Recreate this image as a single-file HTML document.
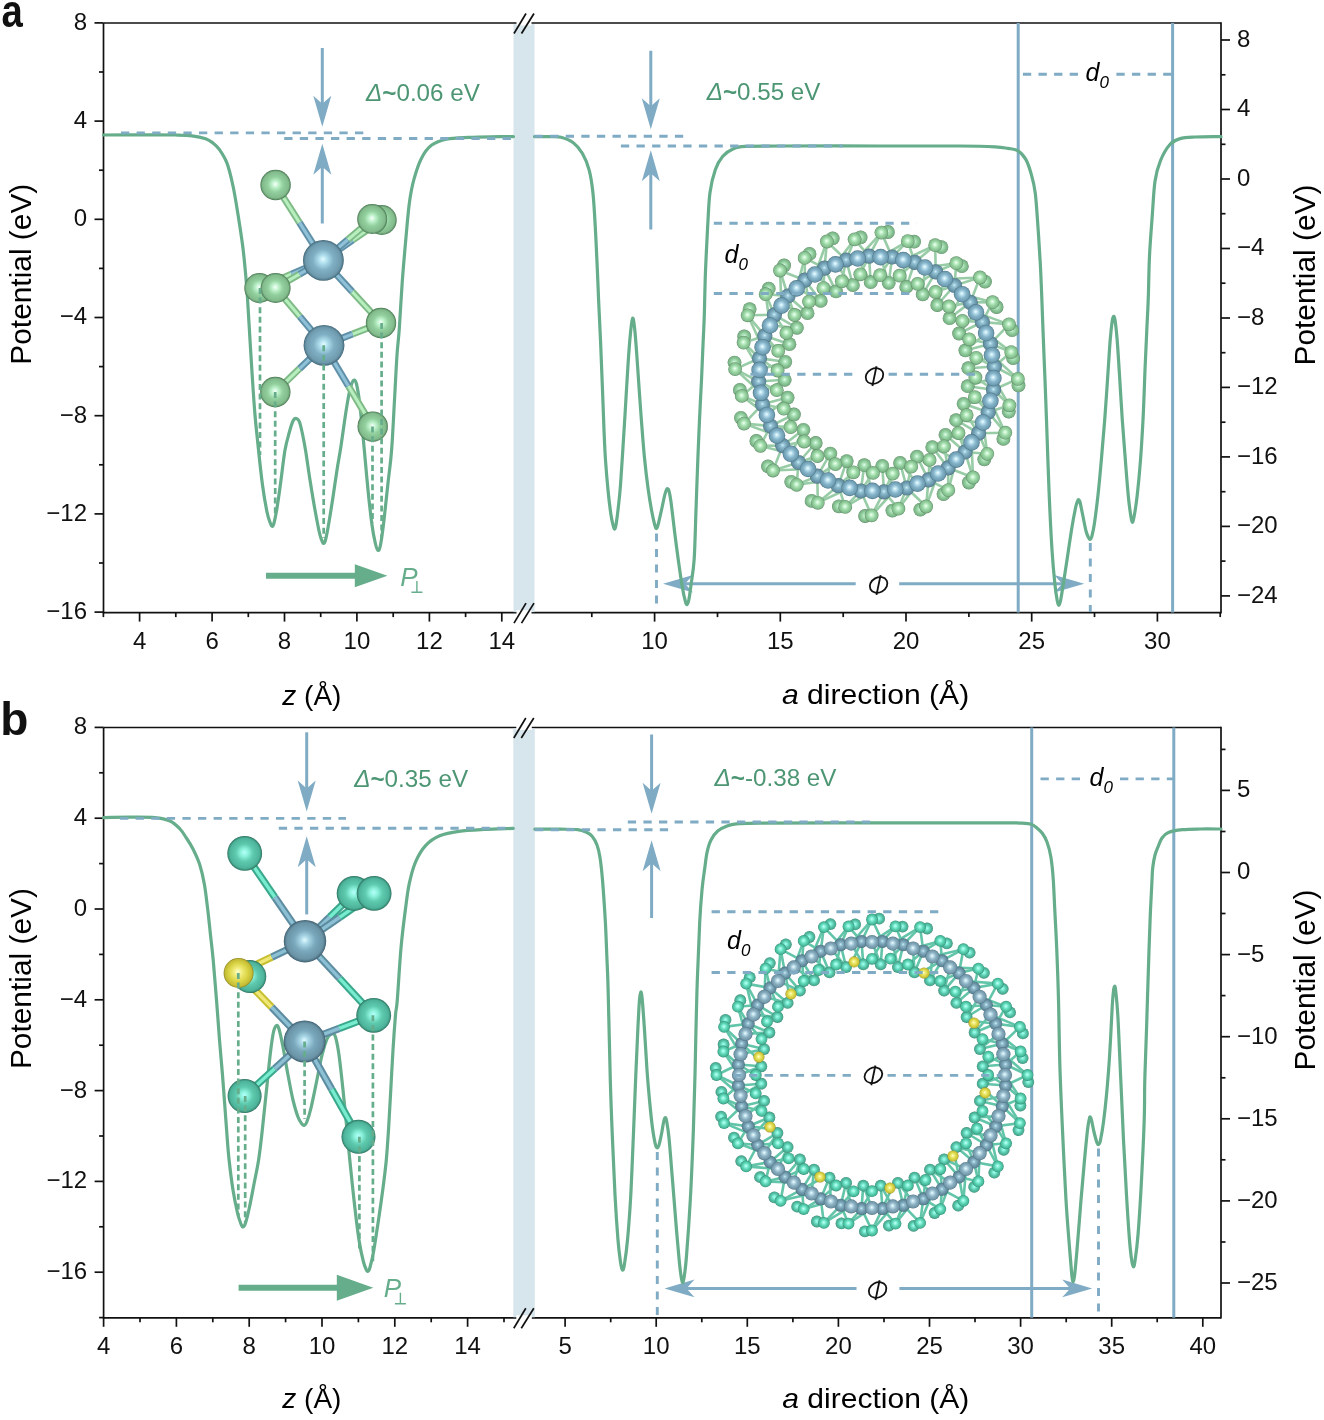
<!DOCTYPE html>
<html><head><meta charset="utf-8"><style>html,body{margin:0;padding:0;background:#fff;}svg{display:block;will-change:transform;}</style></head>
<body>
<svg width="1324" height="1420" viewBox="0 0 1324 1420" font-family='"Liberation Sans", sans-serif'>
<defs>
<radialGradient id="gA" cx="0.5" cy="0.5" r="0.5" fx="0.49" fy="0.47"><stop offset="0" stop-color="#f8fffc"/><stop offset="0.22" stop-color="#bff2cc"/><stop offset="0.5" stop-color="#92d09e"/><stop offset="0.86" stop-color="#82ba8c"/><stop offset="0.95" stop-color="#5f9468"/><stop offset="1" stop-color="#3f6b48"/></radialGradient>
<radialGradient id="mA" cx="0.5" cy="0.5" r="0.5" fx="0.49" fy="0.47"><stop offset="0" stop-color="#e4fcff"/><stop offset="0.2" stop-color="#b0e0ee"/><stop offset="0.5" stop-color="#80b0c4"/><stop offset="0.86" stop-color="#6f9aae"/><stop offset="0.95" stop-color="#557e90"/><stop offset="1" stop-color="#3a5e6e"/></radialGradient>
<radialGradient id="tB" cx="0.5" cy="0.5" r="0.5" fx="0.49" fy="0.47"><stop offset="0" stop-color="#b4fffb"/><stop offset="0.22" stop-color="#8cf2dc"/><stop offset="0.5" stop-color="#5ecaae"/><stop offset="0.86" stop-color="#4db39a"/><stop offset="0.95" stop-color="#3a8f78"/><stop offset="1" stop-color="#276a58"/></radialGradient>
<radialGradient id="mB" cx="0.5" cy="0.5" r="0.5" fx="0.49" fy="0.47"><stop offset="0" stop-color="#e0fbff"/><stop offset="0.2" stop-color="#a8d6e6"/><stop offset="0.5" stop-color="#7aa8bc"/><stop offset="0.86" stop-color="#6a93a6"/><stop offset="0.95" stop-color="#527688"/><stop offset="1" stop-color="#385868"/></radialGradient>
<radialGradient id="yB" cx="0.5" cy="0.5" r="0.5" fx="0.47" fy="0.45"><stop offset="0" stop-color="#ffffd0"/><stop offset="0.25" stop-color="#f2ee80"/><stop offset="0.6" stop-color="#dcd648"/><stop offset="0.9" stop-color="#c4bc34"/><stop offset="1" stop-color="#8c8420"/></radialGradient>
<radialGradient id="gAr" cx="0.5" cy="0.5" r="0.5" fx="0.49" fy="0.47"><stop offset="0" stop-color="#e8fff0"/><stop offset="0.25" stop-color="#b0e6be"/><stop offset="0.6" stop-color="#8cc898"/><stop offset="0.9" stop-color="#78b084"/><stop offset="1" stop-color="#4f8058"/></radialGradient>
<radialGradient id="mAr" cx="0.5" cy="0.5" r="0.5" fx="0.49" fy="0.47"><stop offset="0" stop-color="#cfeff8"/><stop offset="0.25" stop-color="#94c2d4"/><stop offset="0.6" stop-color="#74a2b6"/><stop offset="0.9" stop-color="#618a9c"/><stop offset="1" stop-color="#42687a"/></radialGradient>
<radialGradient id="tBr" cx="0.5" cy="0.5" r="0.5" fx="0.49" fy="0.47"><stop offset="0" stop-color="#a8fff4"/><stop offset="0.25" stop-color="#80eed6"/><stop offset="0.6" stop-color="#56c4a8"/><stop offset="0.9" stop-color="#46a88f"/><stop offset="1" stop-color="#2d7a66"/></radialGradient>
<radialGradient id="mBr" cx="0.5" cy="0.5" r="0.5" fx="0.49" fy="0.47"><stop offset="0" stop-color="#cbecf6"/><stop offset="0.25" stop-color="#90bccd"/><stop offset="0.6" stop-color="#7099ac"/><stop offset="0.9" stop-color="#5c8497"/><stop offset="1" stop-color="#3e6070"/></radialGradient>
<radialGradient id="mAs" cx="0.5" cy="0.5" r="0.5" fx="0.48" fy="0.45"><stop offset="0" stop-color="#f2ffff"/><stop offset="0.25" stop-color="#b4dcec"/><stop offset="0.55" stop-color="#84b2c8"/><stop offset="0.85" stop-color="#6f9db2"/><stop offset="1" stop-color="#4c7588"/></radialGradient>
<radialGradient id="mBs" cx="0.5" cy="0.5" r="0.5" fx="0.48" fy="0.45"><stop offset="0" stop-color="#f2ffff"/><stop offset="0.25" stop-color="#b6d8e6"/><stop offset="0.55" stop-color="#88adbf"/><stop offset="0.85" stop-color="#7398aa"/><stop offset="1" stop-color="#4f7385"/></radialGradient>
<radialGradient id="gAs" cx="0.5" cy="0.5" r="0.5" fx="0.48" fy="0.45"><stop offset="0" stop-color="#f6fff8"/><stop offset="0.25" stop-color="#c0f0c8"/><stop offset="0.55" stop-color="#98d4a2"/><stop offset="0.85" stop-color="#84bc8e"/><stop offset="1" stop-color="#5a8c62"/></radialGradient>
<radialGradient id="tBs" cx="0.5" cy="0.5" r="0.5" fx="0.48" fy="0.45"><stop offset="0" stop-color="#c8fffa"/><stop offset="0.25" stop-color="#8af4dc"/><stop offset="0.55" stop-color="#5cd4b4"/><stop offset="0.85" stop-color="#46b89a"/><stop offset="1" stop-color="#2e8a72"/></radialGradient>
</defs>
<rect width="1324" height="1420" fill="#fff"/>
<line x1="103.5" y1="23" x2="1221" y2="23" stroke="#111" stroke-width="1.7" />
<line x1="103.5" y1="612.6" x2="1221" y2="612.6" stroke="#111" stroke-width="1.7" />
<line x1="103.5" y1="23" x2="103.5" y2="613.4" stroke="#111" stroke-width="1.7" />
<line x1="1221" y1="22.2" x2="1221" y2="613.4" stroke="#111" stroke-width="1.7" />
<rect x="513.5" y="24" width="21" height="588.1" fill="#d7e5ed"/>
<line x1="94.5" y1="22.9" x2="103.5" y2="22.9" stroke="#111" stroke-width="1.7" />
<text x="87" y="29.8" font-size="24" text-anchor="end" fill="#111" >8</text>
<line x1="99" y1="72" x2="103.5" y2="72" stroke="#111" stroke-width="1.7" />
<line x1="94.5" y1="121.1" x2="103.5" y2="121.1" stroke="#111" stroke-width="1.7" />
<text x="87" y="128" font-size="24" text-anchor="end" fill="#111" >4</text>
<line x1="99" y1="170.2" x2="103.5" y2="170.2" stroke="#111" stroke-width="1.7" />
<line x1="94.5" y1="219.3" x2="103.5" y2="219.3" stroke="#111" stroke-width="1.7" />
<text x="87" y="226.2" font-size="24" text-anchor="end" fill="#111" >0</text>
<line x1="99" y1="268.4" x2="103.5" y2="268.4" stroke="#111" stroke-width="1.7" />
<line x1="94.5" y1="317.5" x2="103.5" y2="317.5" stroke="#111" stroke-width="1.7" />
<text x="87" y="324.4" font-size="24" text-anchor="end" fill="#111" >−4</text>
<line x1="99" y1="366.6" x2="103.5" y2="366.6" stroke="#111" stroke-width="1.7" />
<line x1="94.5" y1="415.7" x2="103.5" y2="415.7" stroke="#111" stroke-width="1.7" />
<text x="87" y="422.6" font-size="24" text-anchor="end" fill="#111" >−8</text>
<line x1="99" y1="464.8" x2="103.5" y2="464.8" stroke="#111" stroke-width="1.7" />
<line x1="94.5" y1="513.9" x2="103.5" y2="513.9" stroke="#111" stroke-width="1.7" />
<text x="87" y="520.8" font-size="24" text-anchor="end" fill="#111" >−12</text>
<line x1="99" y1="563" x2="103.5" y2="563" stroke="#111" stroke-width="1.7" />
<line x1="94.5" y1="612.1" x2="103.5" y2="612.1" stroke="#111" stroke-width="1.7" />
<text x="87" y="619" font-size="24" text-anchor="end" fill="#111" >−16</text>
<line x1="1221" y1="40" x2="1230" y2="40" stroke="#111" stroke-width="1.7" />
<text x="1237" y="46.9" font-size="24" text-anchor="start" fill="#111" >8</text>
<line x1="1221" y1="74.8" x2="1225.5" y2="74.8" stroke="#111" stroke-width="1.7" />
<line x1="1221" y1="109.5" x2="1230" y2="109.5" stroke="#111" stroke-width="1.7" />
<text x="1237" y="116.4" font-size="24" text-anchor="start" fill="#111" >4</text>
<line x1="1221" y1="144.3" x2="1225.5" y2="144.3" stroke="#111" stroke-width="1.7" />
<line x1="1221" y1="179" x2="1230" y2="179" stroke="#111" stroke-width="1.7" />
<text x="1237" y="185.9" font-size="24" text-anchor="start" fill="#111" >0</text>
<line x1="1221" y1="213.7" x2="1225.5" y2="213.7" stroke="#111" stroke-width="1.7" />
<line x1="1221" y1="248.5" x2="1230" y2="248.5" stroke="#111" stroke-width="1.7" />
<text x="1237" y="255.4" font-size="24" text-anchor="start" fill="#111" >−4</text>
<line x1="1221" y1="283.2" x2="1225.5" y2="283.2" stroke="#111" stroke-width="1.7" />
<line x1="1221" y1="318" x2="1230" y2="318" stroke="#111" stroke-width="1.7" />
<text x="1237" y="324.9" font-size="24" text-anchor="start" fill="#111" >−8</text>
<line x1="1221" y1="352.7" x2="1225.5" y2="352.7" stroke="#111" stroke-width="1.7" />
<line x1="1221" y1="387.4" x2="1230" y2="387.4" stroke="#111" stroke-width="1.7" />
<text x="1237" y="394.3" font-size="24" text-anchor="start" fill="#111" >−12</text>
<line x1="1221" y1="422.2" x2="1225.5" y2="422.2" stroke="#111" stroke-width="1.7" />
<line x1="1221" y1="456.9" x2="1230" y2="456.9" stroke="#111" stroke-width="1.7" />
<text x="1237" y="463.8" font-size="24" text-anchor="start" fill="#111" >−16</text>
<line x1="1221" y1="491.7" x2="1225.5" y2="491.7" stroke="#111" stroke-width="1.7" />
<line x1="1221" y1="526.4" x2="1230" y2="526.4" stroke="#111" stroke-width="1.7" />
<text x="1237" y="533.3" font-size="24" text-anchor="start" fill="#111" >−20</text>
<line x1="1221" y1="561.1" x2="1225.5" y2="561.1" stroke="#111" stroke-width="1.7" />
<line x1="1221" y1="595.9" x2="1230" y2="595.9" stroke="#111" stroke-width="1.7" />
<text x="1237" y="602.8" font-size="24" text-anchor="start" fill="#111" >−24</text>
<line x1="103.4" y1="612.6" x2="103.4" y2="617.1" stroke="#111" stroke-width="1.7" />
<line x1="139.6" y1="612.6" x2="139.6" y2="621.6" stroke="#111" stroke-width="1.7" />
<text x="139.6" y="649.1" font-size="24" text-anchor="middle" fill="#111" >4</text>
<line x1="175.8" y1="612.6" x2="175.8" y2="617.1" stroke="#111" stroke-width="1.7" />
<line x1="212.1" y1="612.6" x2="212.1" y2="621.6" stroke="#111" stroke-width="1.7" />
<text x="212.1" y="649.1" font-size="24" text-anchor="middle" fill="#111" >6</text>
<line x1="248.3" y1="612.6" x2="248.3" y2="617.1" stroke="#111" stroke-width="1.7" />
<line x1="284.5" y1="612.6" x2="284.5" y2="621.6" stroke="#111" stroke-width="1.7" />
<text x="284.5" y="649.1" font-size="24" text-anchor="middle" fill="#111" >8</text>
<line x1="320.7" y1="612.6" x2="320.7" y2="617.1" stroke="#111" stroke-width="1.7" />
<line x1="356.9" y1="612.6" x2="356.9" y2="621.6" stroke="#111" stroke-width="1.7" />
<text x="356.9" y="649.1" font-size="24" text-anchor="middle" fill="#111" >10</text>
<line x1="393.2" y1="612.6" x2="393.2" y2="617.1" stroke="#111" stroke-width="1.7" />
<line x1="429.4" y1="612.6" x2="429.4" y2="621.6" stroke="#111" stroke-width="1.7" />
<text x="429.4" y="649.1" font-size="24" text-anchor="middle" fill="#111" >12</text>
<line x1="465.6" y1="612.6" x2="465.6" y2="617.1" stroke="#111" stroke-width="1.7" />
<line x1="501.8" y1="612.6" x2="501.8" y2="621.6" stroke="#111" stroke-width="1.7" />
<text x="501.8" y="649.1" font-size="24" text-anchor="middle" fill="#111" >14</text>
<line x1="591.8" y1="612.6" x2="591.8" y2="617.1" stroke="#111" stroke-width="1.7" />
<line x1="654.6" y1="612.6" x2="654.6" y2="621.6" stroke="#111" stroke-width="1.7" />
<text x="654.6" y="649.1" font-size="24" text-anchor="middle" fill="#111" >10</text>
<line x1="717.5" y1="612.6" x2="717.5" y2="617.1" stroke="#111" stroke-width="1.7" />
<line x1="780.3" y1="612.6" x2="780.3" y2="621.6" stroke="#111" stroke-width="1.7" />
<text x="780.3" y="649.1" font-size="24" text-anchor="middle" fill="#111" >15</text>
<line x1="843.2" y1="612.6" x2="843.2" y2="617.1" stroke="#111" stroke-width="1.7" />
<line x1="906" y1="612.6" x2="906" y2="621.6" stroke="#111" stroke-width="1.7" />
<text x="906" y="649.1" font-size="24" text-anchor="middle" fill="#111" >20</text>
<line x1="968.9" y1="612.6" x2="968.9" y2="617.1" stroke="#111" stroke-width="1.7" />
<line x1="1031.7" y1="612.6" x2="1031.7" y2="621.6" stroke="#111" stroke-width="1.7" />
<text x="1031.7" y="649.1" font-size="24" text-anchor="middle" fill="#111" >25</text>
<line x1="1094.5" y1="612.6" x2="1094.5" y2="617.1" stroke="#111" stroke-width="1.7" />
<line x1="1157.4" y1="612.6" x2="1157.4" y2="621.6" stroke="#111" stroke-width="1.7" />
<text x="1157.4" y="649.1" font-size="24" text-anchor="middle" fill="#111" >30</text>
<line x1="1220.2" y1="612.6" x2="1220.2" y2="617.1" stroke="#111" stroke-width="1.7" />
<line x1="516.5" y1="23" x2="531.5" y2="23" stroke="white" stroke-width="5"/>
<line x1="514" y1="33.5" x2="526" y2="13.5" stroke="#111" stroke-width="1.7" />
<line x1="521.5" y1="33.5" x2="534" y2="13.5" stroke="#111" stroke-width="1.7" />
<line x1="516.5" y1="612.6" x2="531.5" y2="612.6" stroke="white" stroke-width="5"/>
<line x1="514" y1="623.1" x2="526" y2="603.1" stroke="#111" stroke-width="1.7" />
<line x1="521.5" y1="623.1" x2="534" y2="603.1" stroke="#111" stroke-width="1.7" />
<line x1="1018.2" y1="23" x2="1018.2" y2="612.6" stroke="#7fabc4" stroke-width="3" />
<line x1="1172.6" y1="23" x2="1172.6" y2="612.6" stroke="#7fabc4" stroke-width="3" />
<line x1="892.2" y1="257" x2="881.4" y2="232.6" stroke="#98cca6" stroke-width="2.6"/>
<line x1="892.2" y1="257" x2="907.8" y2="241.1" stroke="#98cca6" stroke-width="2.6"/>
<line x1="892.2" y1="257" x2="880" y2="275.1" stroke="#98cca6" stroke-width="2.6"/>
<line x1="892.2" y1="257" x2="888.7" y2="282.8" stroke="#98cca6" stroke-width="2.6"/>
<line x1="880.6" y1="257.1" x2="907.8" y2="241.1" stroke="#98cca6" stroke-width="2.6"/>
<line x1="880.6" y1="257.1" x2="888.7" y2="282.8" stroke="#98cca6" stroke-width="2.6"/>
<line x1="880.6" y1="257.1" x2="903.3" y2="260.1" stroke="#98cca6" stroke-width="2.6"/>
<line x1="914.7" y1="262.3" x2="907.8" y2="241.1" stroke="#98cca6" stroke-width="2.6"/>
<line x1="914.7" y1="262.3" x2="935.2" y2="245.2" stroke="#98cca6" stroke-width="2.6"/>
<line x1="914.7" y1="262.3" x2="899.6" y2="275.7" stroke="#98cca6" stroke-width="2.6"/>
<line x1="914.7" y1="262.3" x2="906.3" y2="286.9" stroke="#98cca6" stroke-width="2.6"/>
<line x1="903.3" y1="260.1" x2="935.2" y2="245.2" stroke="#98cca6" stroke-width="2.6"/>
<line x1="903.3" y1="260.1" x2="906.3" y2="286.9" stroke="#98cca6" stroke-width="2.6"/>
<line x1="903.3" y1="260.1" x2="925" y2="267.5" stroke="#98cca6" stroke-width="2.6"/>
<line x1="935.7" y1="271.9" x2="935.2" y2="245.2" stroke="#98cca6" stroke-width="2.6"/>
<line x1="935.7" y1="271.9" x2="956.3" y2="263.2" stroke="#98cca6" stroke-width="2.6"/>
<line x1="935.7" y1="271.9" x2="917.6" y2="283.9" stroke="#98cca6" stroke-width="2.6"/>
<line x1="935.7" y1="271.9" x2="922.7" y2="294.4" stroke="#98cca6" stroke-width="2.6"/>
<line x1="925" y1="267.5" x2="956.3" y2="263.2" stroke="#98cca6" stroke-width="2.6"/>
<line x1="925" y1="267.5" x2="922.7" y2="294.4" stroke="#98cca6" stroke-width="2.6"/>
<line x1="925" y1="267.5" x2="944.9" y2="279" stroke="#98cca6" stroke-width="2.6"/>
<line x1="954.5" y1="285.5" x2="956.3" y2="263.2" stroke="#98cca6" stroke-width="2.6"/>
<line x1="954.5" y1="285.5" x2="980" y2="277.5" stroke="#98cca6" stroke-width="2.6"/>
<line x1="954.5" y1="285.5" x2="935.5" y2="292" stroke="#98cca6" stroke-width="2.6"/>
<line x1="954.5" y1="285.5" x2="937.3" y2="305" stroke="#98cca6" stroke-width="2.6"/>
<line x1="944.9" y1="279" x2="980" y2="277.5" stroke="#98cca6" stroke-width="2.6"/>
<line x1="944.9" y1="279" x2="937.3" y2="305" stroke="#98cca6" stroke-width="2.6"/>
<line x1="944.9" y1="279" x2="962.1" y2="294.2" stroke="#98cca6" stroke-width="2.6"/>
<line x1="970.3" y1="302.4" x2="980" y2="277.5" stroke="#98cca6" stroke-width="2.6"/>
<line x1="970.3" y1="302.4" x2="992.6" y2="302.2" stroke="#98cca6" stroke-width="2.6"/>
<line x1="970.3" y1="302.4" x2="948.9" y2="306.5" stroke="#98cca6" stroke-width="2.6"/>
<line x1="970.3" y1="302.4" x2="949.6" y2="318.2" stroke="#98cca6" stroke-width="2.6"/>
<line x1="962.1" y1="294.2" x2="992.6" y2="302.2" stroke="#98cca6" stroke-width="2.6"/>
<line x1="962.1" y1="294.2" x2="949.6" y2="318.2" stroke="#98cca6" stroke-width="2.6"/>
<line x1="962.1" y1="294.2" x2="976" y2="312.4" stroke="#98cca6" stroke-width="2.6"/>
<line x1="982.4" y1="322" x2="992.6" y2="302.2" stroke="#98cca6" stroke-width="2.6"/>
<line x1="982.4" y1="322" x2="1009" y2="324.4" stroke="#98cca6" stroke-width="2.6"/>
<line x1="982.4" y1="322" x2="962.4" y2="320.9" stroke="#98cca6" stroke-width="2.6"/>
<line x1="982.4" y1="322" x2="959.1" y2="333.5" stroke="#98cca6" stroke-width="2.6"/>
<line x1="976" y1="312.4" x2="1009" y2="324.4" stroke="#98cca6" stroke-width="2.6"/>
<line x1="976" y1="312.4" x2="959.1" y2="333.5" stroke="#98cca6" stroke-width="2.6"/>
<line x1="976" y1="312.4" x2="986.1" y2="333" stroke="#98cca6" stroke-width="2.6"/>
<line x1="990.5" y1="343.7" x2="1009" y2="324.4" stroke="#98cca6" stroke-width="2.6"/>
<line x1="990.5" y1="343.7" x2="1011.2" y2="352.1" stroke="#98cca6" stroke-width="2.6"/>
<line x1="990.5" y1="343.7" x2="969.2" y2="339.3" stroke="#98cca6" stroke-width="2.6"/>
<line x1="990.5" y1="343.7" x2="965.4" y2="350.4" stroke="#98cca6" stroke-width="2.6"/>
<line x1="986.1" y1="333" x2="1011.2" y2="352.1" stroke="#98cca6" stroke-width="2.6"/>
<line x1="986.1" y1="333" x2="965.4" y2="350.4" stroke="#98cca6" stroke-width="2.6"/>
<line x1="986.1" y1="333" x2="992" y2="355.2" stroke="#98cca6" stroke-width="2.6"/>
<line x1="994.3" y1="366.5" x2="1011.2" y2="352.1" stroke="#98cca6" stroke-width="2.6"/>
<line x1="994.3" y1="366.5" x2="1017.9" y2="378.9" stroke="#98cca6" stroke-width="2.6"/>
<line x1="994.3" y1="366.5" x2="976.2" y2="357.8" stroke="#98cca6" stroke-width="2.6"/>
<line x1="994.3" y1="366.5" x2="968.3" y2="368.2" stroke="#98cca6" stroke-width="2.6"/>
<line x1="992" y1="355.2" x2="1017.9" y2="378.9" stroke="#98cca6" stroke-width="2.6"/>
<line x1="992" y1="355.2" x2="968.3" y2="368.2" stroke="#98cca6" stroke-width="2.6"/>
<line x1="992" y1="355.2" x2="993.4" y2="378.1" stroke="#98cca6" stroke-width="2.6"/>
<line x1="993.5" y1="389.7" x2="1017.9" y2="378.9" stroke="#98cca6" stroke-width="2.6"/>
<line x1="993.5" y1="389.7" x2="1009.4" y2="405.3" stroke="#98cca6" stroke-width="2.6"/>
<line x1="993.5" y1="389.7" x2="975.4" y2="377.5" stroke="#98cca6" stroke-width="2.6"/>
<line x1="993.5" y1="389.7" x2="967.7" y2="386.2" stroke="#98cca6" stroke-width="2.6"/>
<line x1="993.4" y1="378.1" x2="1009.4" y2="405.3" stroke="#98cca6" stroke-width="2.6"/>
<line x1="993.4" y1="378.1" x2="967.7" y2="386.2" stroke="#98cca6" stroke-width="2.6"/>
<line x1="993.4" y1="378.1" x2="990.4" y2="400.8" stroke="#98cca6" stroke-width="2.6"/>
<line x1="988.2" y1="412.2" x2="1009.4" y2="405.3" stroke="#98cca6" stroke-width="2.6"/>
<line x1="988.2" y1="412.2" x2="1005.3" y2="432.7" stroke="#98cca6" stroke-width="2.6"/>
<line x1="988.2" y1="412.2" x2="974.8" y2="397.1" stroke="#98cca6" stroke-width="2.6"/>
<line x1="988.2" y1="412.2" x2="963.6" y2="403.8" stroke="#98cca6" stroke-width="2.6"/>
<line x1="990.4" y1="400.8" x2="1005.3" y2="432.7" stroke="#98cca6" stroke-width="2.6"/>
<line x1="990.4" y1="400.8" x2="963.6" y2="403.8" stroke="#98cca6" stroke-width="2.6"/>
<line x1="990.4" y1="400.8" x2="983" y2="422.5" stroke="#98cca6" stroke-width="2.6"/>
<line x1="978.6" y1="433.2" x2="1005.3" y2="432.7" stroke="#98cca6" stroke-width="2.6"/>
<line x1="978.6" y1="433.2" x2="987.3" y2="453.8" stroke="#98cca6" stroke-width="2.6"/>
<line x1="978.6" y1="433.2" x2="966.6" y2="415.1" stroke="#98cca6" stroke-width="2.6"/>
<line x1="978.6" y1="433.2" x2="956.1" y2="420.2" stroke="#98cca6" stroke-width="2.6"/>
<line x1="983" y1="422.5" x2="987.3" y2="453.8" stroke="#98cca6" stroke-width="2.6"/>
<line x1="983" y1="422.5" x2="956.1" y2="420.2" stroke="#98cca6" stroke-width="2.6"/>
<line x1="983" y1="422.5" x2="971.5" y2="442.4" stroke="#98cca6" stroke-width="2.6"/>
<line x1="965" y1="452" x2="987.3" y2="453.8" stroke="#98cca6" stroke-width="2.6"/>
<line x1="965" y1="452" x2="973" y2="477.5" stroke="#98cca6" stroke-width="2.6"/>
<line x1="965" y1="452" x2="958.5" y2="433" stroke="#98cca6" stroke-width="2.6"/>
<line x1="965" y1="452" x2="945.5" y2="434.8" stroke="#98cca6" stroke-width="2.6"/>
<line x1="971.5" y1="442.4" x2="973" y2="477.5" stroke="#98cca6" stroke-width="2.6"/>
<line x1="971.5" y1="442.4" x2="945.5" y2="434.8" stroke="#98cca6" stroke-width="2.6"/>
<line x1="971.5" y1="442.4" x2="956.3" y2="459.6" stroke="#98cca6" stroke-width="2.6"/>
<line x1="948.1" y1="467.8" x2="973" y2="477.5" stroke="#98cca6" stroke-width="2.6"/>
<line x1="948.1" y1="467.8" x2="948.3" y2="490.1" stroke="#98cca6" stroke-width="2.6"/>
<line x1="948.1" y1="467.8" x2="944" y2="446.4" stroke="#98cca6" stroke-width="2.6"/>
<line x1="948.1" y1="467.8" x2="932.3" y2="447.1" stroke="#98cca6" stroke-width="2.6"/>
<line x1="956.3" y1="459.6" x2="948.3" y2="490.1" stroke="#98cca6" stroke-width="2.6"/>
<line x1="956.3" y1="459.6" x2="932.3" y2="447.1" stroke="#98cca6" stroke-width="2.6"/>
<line x1="956.3" y1="459.6" x2="938.1" y2="473.5" stroke="#98cca6" stroke-width="2.6"/>
<line x1="928.5" y1="479.9" x2="948.3" y2="490.1" stroke="#98cca6" stroke-width="2.6"/>
<line x1="928.5" y1="479.9" x2="926.1" y2="506.5" stroke="#98cca6" stroke-width="2.6"/>
<line x1="928.5" y1="479.9" x2="929.6" y2="459.9" stroke="#98cca6" stroke-width="2.6"/>
<line x1="928.5" y1="479.9" x2="917" y2="456.6" stroke="#98cca6" stroke-width="2.6"/>
<line x1="938.1" y1="473.5" x2="926.1" y2="506.5" stroke="#98cca6" stroke-width="2.6"/>
<line x1="938.1" y1="473.5" x2="917" y2="456.6" stroke="#98cca6" stroke-width="2.6"/>
<line x1="938.1" y1="473.5" x2="917.5" y2="483.6" stroke="#98cca6" stroke-width="2.6"/>
<line x1="906.8" y1="488" x2="926.1" y2="506.5" stroke="#98cca6" stroke-width="2.6"/>
<line x1="906.8" y1="488" x2="898.4" y2="508.7" stroke="#98cca6" stroke-width="2.6"/>
<line x1="906.8" y1="488" x2="911.2" y2="466.7" stroke="#98cca6" stroke-width="2.6"/>
<line x1="906.8" y1="488" x2="900.1" y2="462.9" stroke="#98cca6" stroke-width="2.6"/>
<line x1="917.5" y1="483.6" x2="898.4" y2="508.7" stroke="#98cca6" stroke-width="2.6"/>
<line x1="917.5" y1="483.6" x2="900.1" y2="462.9" stroke="#98cca6" stroke-width="2.6"/>
<line x1="917.5" y1="483.6" x2="895.3" y2="489.5" stroke="#98cca6" stroke-width="2.6"/>
<line x1="884" y1="491.8" x2="898.4" y2="508.7" stroke="#98cca6" stroke-width="2.6"/>
<line x1="884" y1="491.8" x2="871.6" y2="515.4" stroke="#98cca6" stroke-width="2.6"/>
<line x1="884" y1="491.8" x2="892.7" y2="473.7" stroke="#98cca6" stroke-width="2.6"/>
<line x1="884" y1="491.8" x2="882.3" y2="465.8" stroke="#98cca6" stroke-width="2.6"/>
<line x1="895.3" y1="489.5" x2="871.6" y2="515.4" stroke="#98cca6" stroke-width="2.6"/>
<line x1="895.3" y1="489.5" x2="882.3" y2="465.8" stroke="#98cca6" stroke-width="2.6"/>
<line x1="895.3" y1="489.5" x2="872.4" y2="490.9" stroke="#98cca6" stroke-width="2.6"/>
<line x1="860.8" y1="491" x2="871.6" y2="515.4" stroke="#98cca6" stroke-width="2.6"/>
<line x1="860.8" y1="491" x2="845.2" y2="506.9" stroke="#98cca6" stroke-width="2.6"/>
<line x1="860.8" y1="491" x2="873" y2="472.9" stroke="#98cca6" stroke-width="2.6"/>
<line x1="860.8" y1="491" x2="864.3" y2="465.2" stroke="#98cca6" stroke-width="2.6"/>
<line x1="872.4" y1="490.9" x2="845.2" y2="506.9" stroke="#98cca6" stroke-width="2.6"/>
<line x1="872.4" y1="490.9" x2="864.3" y2="465.2" stroke="#98cca6" stroke-width="2.6"/>
<line x1="872.4" y1="490.9" x2="849.7" y2="487.9" stroke="#98cca6" stroke-width="2.6"/>
<line x1="838.3" y1="485.7" x2="845.2" y2="506.9" stroke="#98cca6" stroke-width="2.6"/>
<line x1="838.3" y1="485.7" x2="817.8" y2="502.8" stroke="#98cca6" stroke-width="2.6"/>
<line x1="838.3" y1="485.7" x2="853.4" y2="472.3" stroke="#98cca6" stroke-width="2.6"/>
<line x1="838.3" y1="485.7" x2="846.7" y2="461.1" stroke="#98cca6" stroke-width="2.6"/>
<line x1="849.7" y1="487.9" x2="817.8" y2="502.8" stroke="#98cca6" stroke-width="2.6"/>
<line x1="849.7" y1="487.9" x2="846.7" y2="461.1" stroke="#98cca6" stroke-width="2.6"/>
<line x1="849.7" y1="487.9" x2="828" y2="480.5" stroke="#98cca6" stroke-width="2.6"/>
<line x1="817.3" y1="476.1" x2="817.8" y2="502.8" stroke="#98cca6" stroke-width="2.6"/>
<line x1="817.3" y1="476.1" x2="796.7" y2="484.8" stroke="#98cca6" stroke-width="2.6"/>
<line x1="817.3" y1="476.1" x2="835.4" y2="464.1" stroke="#98cca6" stroke-width="2.6"/>
<line x1="817.3" y1="476.1" x2="830.3" y2="453.6" stroke="#98cca6" stroke-width="2.6"/>
<line x1="828" y1="480.5" x2="796.7" y2="484.8" stroke="#98cca6" stroke-width="2.6"/>
<line x1="828" y1="480.5" x2="830.3" y2="453.6" stroke="#98cca6" stroke-width="2.6"/>
<line x1="828" y1="480.5" x2="808.1" y2="469" stroke="#98cca6" stroke-width="2.6"/>
<line x1="798.5" y1="462.5" x2="796.7" y2="484.8" stroke="#98cca6" stroke-width="2.6"/>
<line x1="798.5" y1="462.5" x2="773" y2="470.5" stroke="#98cca6" stroke-width="2.6"/>
<line x1="798.5" y1="462.5" x2="817.5" y2="456" stroke="#98cca6" stroke-width="2.6"/>
<line x1="798.5" y1="462.5" x2="815.7" y2="443" stroke="#98cca6" stroke-width="2.6"/>
<line x1="808.1" y1="469" x2="773" y2="470.5" stroke="#98cca6" stroke-width="2.6"/>
<line x1="808.1" y1="469" x2="815.7" y2="443" stroke="#98cca6" stroke-width="2.6"/>
<line x1="808.1" y1="469" x2="790.9" y2="453.8" stroke="#98cca6" stroke-width="2.6"/>
<line x1="782.7" y1="445.6" x2="773" y2="470.5" stroke="#98cca6" stroke-width="2.6"/>
<line x1="782.7" y1="445.6" x2="760.4" y2="445.8" stroke="#98cca6" stroke-width="2.6"/>
<line x1="782.7" y1="445.6" x2="804.1" y2="441.5" stroke="#98cca6" stroke-width="2.6"/>
<line x1="782.7" y1="445.6" x2="803.4" y2="429.8" stroke="#98cca6" stroke-width="2.6"/>
<line x1="790.9" y1="453.8" x2="760.4" y2="445.8" stroke="#98cca6" stroke-width="2.6"/>
<line x1="790.9" y1="453.8" x2="803.4" y2="429.8" stroke="#98cca6" stroke-width="2.6"/>
<line x1="790.9" y1="453.8" x2="777" y2="435.6" stroke="#98cca6" stroke-width="2.6"/>
<line x1="770.6" y1="426" x2="760.4" y2="445.8" stroke="#98cca6" stroke-width="2.6"/>
<line x1="770.6" y1="426" x2="744" y2="423.6" stroke="#98cca6" stroke-width="2.6"/>
<line x1="770.6" y1="426" x2="790.6" y2="427.1" stroke="#98cca6" stroke-width="2.6"/>
<line x1="770.6" y1="426" x2="793.9" y2="414.5" stroke="#98cca6" stroke-width="2.6"/>
<line x1="777" y1="435.6" x2="744" y2="423.6" stroke="#98cca6" stroke-width="2.6"/>
<line x1="777" y1="435.6" x2="793.9" y2="414.5" stroke="#98cca6" stroke-width="2.6"/>
<line x1="777" y1="435.6" x2="766.9" y2="415" stroke="#98cca6" stroke-width="2.6"/>
<line x1="762.5" y1="404.3" x2="744" y2="423.6" stroke="#98cca6" stroke-width="2.6"/>
<line x1="762.5" y1="404.3" x2="741.8" y2="395.9" stroke="#98cca6" stroke-width="2.6"/>
<line x1="762.5" y1="404.3" x2="783.8" y2="408.7" stroke="#98cca6" stroke-width="2.6"/>
<line x1="762.5" y1="404.3" x2="787.6" y2="397.6" stroke="#98cca6" stroke-width="2.6"/>
<line x1="766.9" y1="415" x2="741.8" y2="395.9" stroke="#98cca6" stroke-width="2.6"/>
<line x1="766.9" y1="415" x2="787.6" y2="397.6" stroke="#98cca6" stroke-width="2.6"/>
<line x1="766.9" y1="415" x2="761" y2="392.8" stroke="#98cca6" stroke-width="2.6"/>
<line x1="758.7" y1="381.5" x2="741.8" y2="395.9" stroke="#98cca6" stroke-width="2.6"/>
<line x1="758.7" y1="381.5" x2="735.1" y2="369.1" stroke="#98cca6" stroke-width="2.6"/>
<line x1="758.7" y1="381.5" x2="776.8" y2="390.2" stroke="#98cca6" stroke-width="2.6"/>
<line x1="758.7" y1="381.5" x2="784.7" y2="379.8" stroke="#98cca6" stroke-width="2.6"/>
<line x1="761" y1="392.8" x2="735.1" y2="369.1" stroke="#98cca6" stroke-width="2.6"/>
<line x1="761" y1="392.8" x2="784.7" y2="379.8" stroke="#98cca6" stroke-width="2.6"/>
<line x1="761" y1="392.8" x2="759.6" y2="369.9" stroke="#98cca6" stroke-width="2.6"/>
<line x1="759.5" y1="358.3" x2="735.1" y2="369.1" stroke="#98cca6" stroke-width="2.6"/>
<line x1="759.5" y1="358.3" x2="743.6" y2="342.7" stroke="#98cca6" stroke-width="2.6"/>
<line x1="759.5" y1="358.3" x2="777.6" y2="370.5" stroke="#98cca6" stroke-width="2.6"/>
<line x1="759.5" y1="358.3" x2="785.3" y2="361.8" stroke="#98cca6" stroke-width="2.6"/>
<line x1="759.6" y1="369.9" x2="743.6" y2="342.7" stroke="#98cca6" stroke-width="2.6"/>
<line x1="759.6" y1="369.9" x2="785.3" y2="361.8" stroke="#98cca6" stroke-width="2.6"/>
<line x1="759.6" y1="369.9" x2="762.6" y2="347.2" stroke="#98cca6" stroke-width="2.6"/>
<line x1="764.8" y1="335.8" x2="743.6" y2="342.7" stroke="#98cca6" stroke-width="2.6"/>
<line x1="764.8" y1="335.8" x2="747.7" y2="315.3" stroke="#98cca6" stroke-width="2.6"/>
<line x1="764.8" y1="335.8" x2="778.2" y2="350.9" stroke="#98cca6" stroke-width="2.6"/>
<line x1="764.8" y1="335.8" x2="789.4" y2="344.2" stroke="#98cca6" stroke-width="2.6"/>
<line x1="762.6" y1="347.2" x2="747.7" y2="315.3" stroke="#98cca6" stroke-width="2.6"/>
<line x1="762.6" y1="347.2" x2="789.4" y2="344.2" stroke="#98cca6" stroke-width="2.6"/>
<line x1="762.6" y1="347.2" x2="770" y2="325.5" stroke="#98cca6" stroke-width="2.6"/>
<line x1="774.4" y1="314.8" x2="747.7" y2="315.3" stroke="#98cca6" stroke-width="2.6"/>
<line x1="774.4" y1="314.8" x2="765.7" y2="294.2" stroke="#98cca6" stroke-width="2.6"/>
<line x1="774.4" y1="314.8" x2="786.4" y2="332.9" stroke="#98cca6" stroke-width="2.6"/>
<line x1="774.4" y1="314.8" x2="796.9" y2="327.8" stroke="#98cca6" stroke-width="2.6"/>
<line x1="770" y1="325.5" x2="765.7" y2="294.2" stroke="#98cca6" stroke-width="2.6"/>
<line x1="770" y1="325.5" x2="796.9" y2="327.8" stroke="#98cca6" stroke-width="2.6"/>
<line x1="770" y1="325.5" x2="781.5" y2="305.6" stroke="#98cca6" stroke-width="2.6"/>
<line x1="788" y1="296" x2="765.7" y2="294.2" stroke="#98cca6" stroke-width="2.6"/>
<line x1="788" y1="296" x2="780" y2="270.5" stroke="#98cca6" stroke-width="2.6"/>
<line x1="788" y1="296" x2="794.5" y2="315" stroke="#98cca6" stroke-width="2.6"/>
<line x1="788" y1="296" x2="807.5" y2="313.2" stroke="#98cca6" stroke-width="2.6"/>
<line x1="781.5" y1="305.6" x2="780" y2="270.5" stroke="#98cca6" stroke-width="2.6"/>
<line x1="781.5" y1="305.6" x2="807.5" y2="313.2" stroke="#98cca6" stroke-width="2.6"/>
<line x1="781.5" y1="305.6" x2="796.7" y2="288.4" stroke="#98cca6" stroke-width="2.6"/>
<line x1="804.9" y1="280.2" x2="780" y2="270.5" stroke="#98cca6" stroke-width="2.6"/>
<line x1="804.9" y1="280.2" x2="804.7" y2="257.9" stroke="#98cca6" stroke-width="2.6"/>
<line x1="804.9" y1="280.2" x2="809" y2="301.6" stroke="#98cca6" stroke-width="2.6"/>
<line x1="804.9" y1="280.2" x2="820.7" y2="300.9" stroke="#98cca6" stroke-width="2.6"/>
<line x1="796.7" y1="288.4" x2="804.7" y2="257.9" stroke="#98cca6" stroke-width="2.6"/>
<line x1="796.7" y1="288.4" x2="820.7" y2="300.9" stroke="#98cca6" stroke-width="2.6"/>
<line x1="796.7" y1="288.4" x2="814.9" y2="274.5" stroke="#98cca6" stroke-width="2.6"/>
<line x1="824.5" y1="268.1" x2="804.7" y2="257.9" stroke="#98cca6" stroke-width="2.6"/>
<line x1="824.5" y1="268.1" x2="826.9" y2="241.5" stroke="#98cca6" stroke-width="2.6"/>
<line x1="824.5" y1="268.1" x2="823.4" y2="288.1" stroke="#98cca6" stroke-width="2.6"/>
<line x1="824.5" y1="268.1" x2="836" y2="291.4" stroke="#98cca6" stroke-width="2.6"/>
<line x1="814.9" y1="274.5" x2="826.9" y2="241.5" stroke="#98cca6" stroke-width="2.6"/>
<line x1="814.9" y1="274.5" x2="836" y2="291.4" stroke="#98cca6" stroke-width="2.6"/>
<line x1="814.9" y1="274.5" x2="835.5" y2="264.4" stroke="#98cca6" stroke-width="2.6"/>
<line x1="846.2" y1="260" x2="826.9" y2="241.5" stroke="#98cca6" stroke-width="2.6"/>
<line x1="846.2" y1="260" x2="854.6" y2="239.3" stroke="#98cca6" stroke-width="2.6"/>
<line x1="846.2" y1="260" x2="841.8" y2="281.3" stroke="#98cca6" stroke-width="2.6"/>
<line x1="846.2" y1="260" x2="852.9" y2="285.1" stroke="#98cca6" stroke-width="2.6"/>
<line x1="835.5" y1="264.4" x2="854.6" y2="239.3" stroke="#98cca6" stroke-width="2.6"/>
<line x1="835.5" y1="264.4" x2="852.9" y2="285.1" stroke="#98cca6" stroke-width="2.6"/>
<line x1="835.5" y1="264.4" x2="857.7" y2="258.5" stroke="#98cca6" stroke-width="2.6"/>
<line x1="869" y1="256.2" x2="854.6" y2="239.3" stroke="#98cca6" stroke-width="2.6"/>
<line x1="869" y1="256.2" x2="881.4" y2="232.6" stroke="#98cca6" stroke-width="2.6"/>
<line x1="869" y1="256.2" x2="860.3" y2="274.3" stroke="#98cca6" stroke-width="2.6"/>
<line x1="869" y1="256.2" x2="870.7" y2="282.2" stroke="#98cca6" stroke-width="2.6"/>
<line x1="857.7" y1="258.5" x2="881.4" y2="232.6" stroke="#98cca6" stroke-width="2.6"/>
<line x1="857.7" y1="258.5" x2="870.7" y2="282.2" stroke="#98cca6" stroke-width="2.6"/>
<line x1="857.7" y1="258.5" x2="880.6" y2="257.1" stroke="#98cca6" stroke-width="2.6"/>
<circle cx="892.2" cy="257" r="7.6" fill="url(#mAr)"/>
<circle cx="914.7" cy="262.3" r="7.6" fill="url(#mAr)"/>
<circle cx="935.7" cy="271.9" r="7.6" fill="url(#mAr)"/>
<circle cx="954.5" cy="285.5" r="7.6" fill="url(#mAr)"/>
<circle cx="970.3" cy="302.4" r="7.6" fill="url(#mAr)"/>
<circle cx="982.4" cy="322" r="7.6" fill="url(#mAr)"/>
<circle cx="990.5" cy="343.7" r="7.6" fill="url(#mAr)"/>
<circle cx="994.3" cy="366.5" r="7.6" fill="url(#mAr)"/>
<circle cx="993.5" cy="389.7" r="7.6" fill="url(#mAr)"/>
<circle cx="988.2" cy="412.2" r="7.6" fill="url(#mAr)"/>
<circle cx="978.6" cy="433.2" r="7.6" fill="url(#mAr)"/>
<circle cx="965" cy="452" r="7.6" fill="url(#mAr)"/>
<circle cx="948.1" cy="467.8" r="7.6" fill="url(#mAr)"/>
<circle cx="928.5" cy="479.9" r="7.6" fill="url(#mAr)"/>
<circle cx="906.8" cy="488" r="7.6" fill="url(#mAr)"/>
<circle cx="884" cy="491.8" r="7.6" fill="url(#mAr)"/>
<circle cx="860.8" cy="491" r="7.6" fill="url(#mAr)"/>
<circle cx="838.3" cy="485.7" r="7.6" fill="url(#mAr)"/>
<circle cx="817.3" cy="476.1" r="7.6" fill="url(#mAr)"/>
<circle cx="798.5" cy="462.5" r="7.6" fill="url(#mAr)"/>
<circle cx="782.7" cy="445.6" r="7.6" fill="url(#mAr)"/>
<circle cx="770.6" cy="426" r="7.6" fill="url(#mAr)"/>
<circle cx="762.5" cy="404.3" r="7.6" fill="url(#mAr)"/>
<circle cx="758.7" cy="381.5" r="7.6" fill="url(#mAr)"/>
<circle cx="759.5" cy="358.3" r="7.6" fill="url(#mAr)"/>
<circle cx="764.8" cy="335.8" r="7.6" fill="url(#mAr)"/>
<circle cx="774.4" cy="314.8" r="7.6" fill="url(#mAr)"/>
<circle cx="788" cy="296" r="7.6" fill="url(#mAr)"/>
<circle cx="804.9" cy="280.2" r="7.6" fill="url(#mAr)"/>
<circle cx="824.5" cy="268.1" r="7.6" fill="url(#mAr)"/>
<circle cx="846.2" cy="260" r="7.6" fill="url(#mAr)"/>
<circle cx="869" cy="256.2" r="7.6" fill="url(#mAr)"/>
<circle cx="887.9" cy="232" r="6.9" fill="url(#gAr)"/>
<circle cx="888.7" cy="282.8" r="6.9" fill="url(#gAr)"/>
<circle cx="914.1" cy="241.7" r="6.9" fill="url(#gAr)"/>
<circle cx="906.3" cy="286.9" r="6.9" fill="url(#gAr)"/>
<circle cx="941.4" cy="247.1" r="6.9" fill="url(#gAr)"/>
<circle cx="922.7" cy="294.4" r="6.9" fill="url(#gAr)"/>
<circle cx="961.8" cy="266.2" r="6.9" fill="url(#gAr)"/>
<circle cx="937.3" cy="305" r="6.9" fill="url(#gAr)"/>
<circle cx="985" cy="281.6" r="6.9" fill="url(#gAr)"/>
<circle cx="949.6" cy="318.2" r="6.9" fill="url(#gAr)"/>
<circle cx="996.6" cy="307" r="6.9" fill="url(#gAr)"/>
<circle cx="959.1" cy="333.5" r="6.9" fill="url(#gAr)"/>
<circle cx="1012.1" cy="330.2" r="6.9" fill="url(#gAr)"/>
<circle cx="965.4" cy="350.4" r="6.9" fill="url(#gAr)"/>
<circle cx="1013.1" cy="358.1" r="6.9" fill="url(#gAr)"/>
<circle cx="968.3" cy="368.2" r="6.9" fill="url(#gAr)"/>
<circle cx="1018.5" cy="385.4" r="6.9" fill="url(#gAr)"/>
<circle cx="967.7" cy="386.2" r="6.9" fill="url(#gAr)"/>
<circle cx="1008.8" cy="411.6" r="6.9" fill="url(#gAr)"/>
<circle cx="963.6" cy="403.8" r="6.9" fill="url(#gAr)"/>
<circle cx="1003.4" cy="438.9" r="6.9" fill="url(#gAr)"/>
<circle cx="956.1" cy="420.2" r="6.9" fill="url(#gAr)"/>
<circle cx="984.3" cy="459.3" r="6.9" fill="url(#gAr)"/>
<circle cx="945.5" cy="434.8" r="6.9" fill="url(#gAr)"/>
<circle cx="968.9" cy="482.5" r="6.9" fill="url(#gAr)"/>
<circle cx="932.3" cy="447.1" r="6.9" fill="url(#gAr)"/>
<circle cx="943.5" cy="494.1" r="6.9" fill="url(#gAr)"/>
<circle cx="917" cy="456.6" r="6.9" fill="url(#gAr)"/>
<circle cx="920.3" cy="509.6" r="6.9" fill="url(#gAr)"/>
<circle cx="900.1" cy="462.9" r="6.9" fill="url(#gAr)"/>
<circle cx="892.4" cy="510.6" r="6.9" fill="url(#gAr)"/>
<circle cx="882.3" cy="465.8" r="6.9" fill="url(#gAr)"/>
<circle cx="865.1" cy="516" r="6.9" fill="url(#gAr)"/>
<circle cx="864.3" cy="465.2" r="6.9" fill="url(#gAr)"/>
<circle cx="838.9" cy="506.3" r="6.9" fill="url(#gAr)"/>
<circle cx="846.7" cy="461.1" r="6.9" fill="url(#gAr)"/>
<circle cx="811.6" cy="500.9" r="6.9" fill="url(#gAr)"/>
<circle cx="830.3" cy="453.6" r="6.9" fill="url(#gAr)"/>
<circle cx="791.2" cy="481.8" r="6.9" fill="url(#gAr)"/>
<circle cx="815.7" cy="443" r="6.9" fill="url(#gAr)"/>
<circle cx="768" cy="466.4" r="6.9" fill="url(#gAr)"/>
<circle cx="803.4" cy="429.8" r="6.9" fill="url(#gAr)"/>
<circle cx="756.4" cy="441" r="6.9" fill="url(#gAr)"/>
<circle cx="793.9" cy="414.5" r="6.9" fill="url(#gAr)"/>
<circle cx="740.9" cy="417.8" r="6.9" fill="url(#gAr)"/>
<circle cx="787.6" cy="397.6" r="6.9" fill="url(#gAr)"/>
<circle cx="739.9" cy="389.9" r="6.9" fill="url(#gAr)"/>
<circle cx="784.7" cy="379.8" r="6.9" fill="url(#gAr)"/>
<circle cx="734.5" cy="362.6" r="6.9" fill="url(#gAr)"/>
<circle cx="785.3" cy="361.8" r="6.9" fill="url(#gAr)"/>
<circle cx="744.2" cy="336.4" r="6.9" fill="url(#gAr)"/>
<circle cx="789.4" cy="344.2" r="6.9" fill="url(#gAr)"/>
<circle cx="749.6" cy="309.1" r="6.9" fill="url(#gAr)"/>
<circle cx="796.9" cy="327.8" r="6.9" fill="url(#gAr)"/>
<circle cx="768.7" cy="288.7" r="6.9" fill="url(#gAr)"/>
<circle cx="807.5" cy="313.2" r="6.9" fill="url(#gAr)"/>
<circle cx="784.1" cy="265.5" r="6.9" fill="url(#gAr)"/>
<circle cx="820.7" cy="300.9" r="6.9" fill="url(#gAr)"/>
<circle cx="809.5" cy="253.9" r="6.9" fill="url(#gAr)"/>
<circle cx="836" cy="291.4" r="6.9" fill="url(#gAr)"/>
<circle cx="832.7" cy="238.4" r="6.9" fill="url(#gAr)"/>
<circle cx="852.9" cy="285.1" r="6.9" fill="url(#gAr)"/>
<circle cx="860.6" cy="237.4" r="6.9" fill="url(#gAr)"/>
<circle cx="870.7" cy="282.2" r="6.9" fill="url(#gAr)"/>
<circle cx="880.6" cy="257.1" r="8.3" fill="url(#mAs)"/>
<circle cx="903.3" cy="260.1" r="8.3" fill="url(#mAs)"/>
<circle cx="925" cy="267.5" r="8.3" fill="url(#mAs)"/>
<circle cx="944.9" cy="279" r="8.3" fill="url(#mAs)"/>
<circle cx="962.1" cy="294.2" r="8.3" fill="url(#mAs)"/>
<circle cx="976" cy="312.4" r="8.3" fill="url(#mAs)"/>
<circle cx="986.1" cy="333" r="8.3" fill="url(#mAs)"/>
<circle cx="992" cy="355.2" r="8.3" fill="url(#mAs)"/>
<circle cx="993.4" cy="378.1" r="8.3" fill="url(#mAs)"/>
<circle cx="990.4" cy="400.8" r="8.3" fill="url(#mAs)"/>
<circle cx="983" cy="422.5" r="8.3" fill="url(#mAs)"/>
<circle cx="971.5" cy="442.4" r="8.3" fill="url(#mAs)"/>
<circle cx="956.3" cy="459.6" r="8.3" fill="url(#mAs)"/>
<circle cx="938.1" cy="473.5" r="8.3" fill="url(#mAs)"/>
<circle cx="917.5" cy="483.6" r="8.3" fill="url(#mAs)"/>
<circle cx="895.3" cy="489.5" r="8.3" fill="url(#mAs)"/>
<circle cx="872.4" cy="490.9" r="8.3" fill="url(#mAs)"/>
<circle cx="849.7" cy="487.9" r="8.3" fill="url(#mAs)"/>
<circle cx="828" cy="480.5" r="8.3" fill="url(#mAs)"/>
<circle cx="808.1" cy="469" r="8.3" fill="url(#mAs)"/>
<circle cx="790.9" cy="453.8" r="8.3" fill="url(#mAs)"/>
<circle cx="777" cy="435.6" r="8.3" fill="url(#mAs)"/>
<circle cx="766.9" cy="415" r="8.3" fill="url(#mAs)"/>
<circle cx="761" cy="392.8" r="8.3" fill="url(#mAs)"/>
<circle cx="759.6" cy="369.9" r="8.3" fill="url(#mAs)"/>
<circle cx="762.6" cy="347.2" r="8.3" fill="url(#mAs)"/>
<circle cx="770" cy="325.5" r="8.3" fill="url(#mAs)"/>
<circle cx="781.5" cy="305.6" r="8.3" fill="url(#mAs)"/>
<circle cx="796.7" cy="288.4" r="8.3" fill="url(#mAs)"/>
<circle cx="814.9" cy="274.5" r="8.3" fill="url(#mAs)"/>
<circle cx="835.5" cy="264.4" r="8.3" fill="url(#mAs)"/>
<circle cx="857.7" cy="258.5" r="8.3" fill="url(#mAs)"/>
<circle cx="881.4" cy="232.6" r="6.9" fill="url(#gAs)"/>
<circle cx="880" cy="275.1" r="6.9" fill="url(#gAs)"/>
<circle cx="907.8" cy="241.1" r="6.9" fill="url(#gAs)"/>
<circle cx="899.6" cy="275.7" r="6.9" fill="url(#gAs)"/>
<circle cx="935.2" cy="245.2" r="6.9" fill="url(#gAs)"/>
<circle cx="917.6" cy="283.9" r="6.9" fill="url(#gAs)"/>
<circle cx="956.3" cy="263.2" r="6.9" fill="url(#gAs)"/>
<circle cx="935.5" cy="292" r="6.9" fill="url(#gAs)"/>
<circle cx="980" cy="277.5" r="6.9" fill="url(#gAs)"/>
<circle cx="948.9" cy="306.5" r="6.9" fill="url(#gAs)"/>
<circle cx="992.6" cy="302.2" r="6.9" fill="url(#gAs)"/>
<circle cx="962.4" cy="320.9" r="6.9" fill="url(#gAs)"/>
<circle cx="1009" cy="324.4" r="6.9" fill="url(#gAs)"/>
<circle cx="969.2" cy="339.3" r="6.9" fill="url(#gAs)"/>
<circle cx="1011.2" cy="352.1" r="6.9" fill="url(#gAs)"/>
<circle cx="976.2" cy="357.8" r="6.9" fill="url(#gAs)"/>
<circle cx="1017.9" cy="378.9" r="6.9" fill="url(#gAs)"/>
<circle cx="975.4" cy="377.5" r="6.9" fill="url(#gAs)"/>
<circle cx="1009.4" cy="405.3" r="6.9" fill="url(#gAs)"/>
<circle cx="974.8" cy="397.1" r="6.9" fill="url(#gAs)"/>
<circle cx="1005.3" cy="432.7" r="6.9" fill="url(#gAs)"/>
<circle cx="966.6" cy="415.1" r="6.9" fill="url(#gAs)"/>
<circle cx="987.3" cy="453.8" r="6.9" fill="url(#gAs)"/>
<circle cx="958.5" cy="433" r="6.9" fill="url(#gAs)"/>
<circle cx="973" cy="477.5" r="6.9" fill="url(#gAs)"/>
<circle cx="944" cy="446.4" r="6.9" fill="url(#gAs)"/>
<circle cx="948.3" cy="490.1" r="6.9" fill="url(#gAs)"/>
<circle cx="929.6" cy="459.9" r="6.9" fill="url(#gAs)"/>
<circle cx="926.1" cy="506.5" r="6.9" fill="url(#gAs)"/>
<circle cx="911.2" cy="466.7" r="6.9" fill="url(#gAs)"/>
<circle cx="898.4" cy="508.7" r="6.9" fill="url(#gAs)"/>
<circle cx="892.7" cy="473.7" r="6.9" fill="url(#gAs)"/>
<circle cx="871.6" cy="515.4" r="6.9" fill="url(#gAs)"/>
<circle cx="873" cy="472.9" r="6.9" fill="url(#gAs)"/>
<circle cx="845.2" cy="506.9" r="6.9" fill="url(#gAs)"/>
<circle cx="853.4" cy="472.3" r="6.9" fill="url(#gAs)"/>
<circle cx="817.8" cy="502.8" r="6.9" fill="url(#gAs)"/>
<circle cx="835.4" cy="464.1" r="6.9" fill="url(#gAs)"/>
<circle cx="796.7" cy="484.8" r="6.9" fill="url(#gAs)"/>
<circle cx="817.5" cy="456" r="6.9" fill="url(#gAs)"/>
<circle cx="773" cy="470.5" r="6.9" fill="url(#gAs)"/>
<circle cx="804.1" cy="441.5" r="6.9" fill="url(#gAs)"/>
<circle cx="760.4" cy="445.8" r="6.9" fill="url(#gAs)"/>
<circle cx="790.6" cy="427.1" r="6.9" fill="url(#gAs)"/>
<circle cx="744" cy="423.6" r="6.9" fill="url(#gAs)"/>
<circle cx="783.8" cy="408.7" r="6.9" fill="url(#gAs)"/>
<circle cx="741.8" cy="395.9" r="6.9" fill="url(#gAs)"/>
<circle cx="776.8" cy="390.2" r="6.9" fill="url(#gAs)"/>
<circle cx="735.1" cy="369.1" r="6.9" fill="url(#gAs)"/>
<circle cx="777.6" cy="370.5" r="6.9" fill="url(#gAs)"/>
<circle cx="743.6" cy="342.7" r="6.9" fill="url(#gAs)"/>
<circle cx="778.2" cy="350.9" r="6.9" fill="url(#gAs)"/>
<circle cx="747.7" cy="315.3" r="6.9" fill="url(#gAs)"/>
<circle cx="786.4" cy="332.9" r="6.9" fill="url(#gAs)"/>
<circle cx="765.7" cy="294.2" r="6.9" fill="url(#gAs)"/>
<circle cx="794.5" cy="315" r="6.9" fill="url(#gAs)"/>
<circle cx="780" cy="270.5" r="6.9" fill="url(#gAs)"/>
<circle cx="809" cy="301.6" r="6.9" fill="url(#gAs)"/>
<circle cx="804.7" cy="257.9" r="6.9" fill="url(#gAs)"/>
<circle cx="823.4" cy="288.1" r="6.9" fill="url(#gAs)"/>
<circle cx="826.9" cy="241.5" r="6.9" fill="url(#gAs)"/>
<circle cx="841.8" cy="281.3" r="6.9" fill="url(#gAs)"/>
<circle cx="854.6" cy="239.3" r="6.9" fill="url(#gAs)"/>
<circle cx="860.3" cy="274.3" r="6.9" fill="url(#gAs)"/>
<line x1="683" y1="583.8" x2="855.7" y2="583.8" stroke="#7fabc4" stroke-width="3" />
<line x1="899.2" y1="583.8" x2="1064.2" y2="583.8" stroke="#7fabc4" stroke-width="3" />
<polygon points="663,583.8 693,575 685,583.8 693,592.6" fill="#7fabc4"/>
<polygon points="1084.2,583.8 1054.2,592.6 1062.2,583.8 1054.2,575" fill="#7fabc4"/>
<path d="M103.5,135 C109.6,135 128.1,134.9 140,134.9 C151.9,134.9 166.3,134.8 175,135 C183.7,135.2 186.9,135.2 192,135.8 C197.1,136.4 202.2,137.5 205.7,138.7 C209.2,139.9 210.7,141.2 213,143 C215.3,144.8 217,146 219.3,149.3 C221.6,152.6 224.6,156.9 226.9,162.9 C229.2,168.9 231,176.7 232.9,185.5 C234.8,194.3 236.6,205.6 238.2,215.7 C239.8,225.8 241.4,235.9 242.7,246 C244,256.1 245,267.2 245.8,276.2 C246.6,285.2 246.9,289.4 247.6,300 C248.3,310.6 249.2,326.7 250,340 C250.8,353.3 251.7,367.5 252.5,380 C253.3,392.5 254.1,404.2 255,415 C255.9,425.8 256.8,433.3 258,445 C259.2,456.7 261,473.8 262.5,485 C264,496.2 265.7,505.6 267,512 C268.3,518.4 269.6,521.1 270.5,523.5 C271.4,525.9 271.5,526.6 272.1,526.5 C272.7,526.4 273.2,526.1 274,523 C274.8,519.9 275.8,515.2 277,508 C278.2,500.8 279.7,489.7 281,480 C282.3,470.3 283.6,458 285,450 C286.4,442 288.1,436.8 289.4,432 C290.7,427.2 291.9,423.2 293,421 C294.1,418.8 295.2,418.3 296.3,418.5 C297.4,418.7 298.5,419.4 299.5,422 C300.5,424.6 301.5,429.3 302.5,434 C303.5,438.7 304.2,442.3 305.5,450 C306.8,457.7 308.4,470 310,480 C311.6,490 313.4,501.2 315,510 C316.6,518.8 318.3,527.8 319.5,533 C320.7,538.2 321.3,539.3 322,541 C322.7,542.7 322.9,543.6 323.5,543.4 C324.1,543.2 324.6,543.6 325.5,540 C326.4,536.4 327.8,529.2 329,522 C330.2,514.8 331.7,505.7 333,497 C334.3,488.3 335.7,478.5 337,470 C338.3,461.5 339.7,454.7 341,446 C342.3,437.3 343.7,426.7 345,418 C346.3,409.3 347.8,399.8 349,394 C350.2,388.2 351.1,385.3 352,383 C352.9,380.7 353.4,379.8 354.2,380 C354.9,380.2 355.6,380.3 356.5,384 C357.4,387.7 358.5,394 359.5,402 C360.5,410 361.8,423.7 362.6,432 C363.4,440.3 363.6,442.3 364.5,452 C365.4,461.7 366.8,477.8 368,490 C369.2,502.2 370.8,516 372,525 C373.2,534 374.5,539.8 375.5,544 C376.5,548.2 377.2,550.2 378,550.4 C378.8,550.6 379.5,550.1 380.5,545 C381.5,539.9 382.8,530.3 384,520 C385.2,509.7 386.7,494.7 388,483 C389.3,471.3 390.5,463.8 391.6,450 C392.7,436.2 393.6,415.8 394.5,400 C395.4,384.2 396.2,366.7 397,355 C397.8,343.3 398.3,342.1 399.2,330 C400.1,317.9 401.1,297.9 402.2,282.6 C403.3,267.3 404.7,251.9 405.9,238.3 C407.1,224.8 408.2,211.2 409.6,201.3 C411,191.4 412,186.2 414,179.1 C416,171.9 418.4,164.1 421.4,158.4 C424.3,152.7 427.5,148.3 431.7,145.1 C435.9,141.9 440.3,140.5 446.5,139.2 C452.7,137.9 461.4,137.8 468.7,137.4 C475.9,137 482.5,136.9 490,136.8 C497.5,136.7 509.6,136.6 513.5,136.6" fill="none" stroke="#66ad8b" stroke-width="3.2" stroke-linejoin="round" stroke-linecap="round"/>
<path d="M534.5,136.6 C537.1,136.6 545.6,136.5 550,136.6 C554.4,136.7 557.1,136.2 561,137.2 C564.9,138.2 569.8,140 573.3,142.7 C576.8,145.4 579.7,148.7 582.3,153.2 C584.9,157.7 587.3,163.2 589.1,169.8 C590.9,176.4 591.9,183.2 592.9,192.5 C593.9,201.8 594.5,212.6 595.2,225.7 C596,238.8 596.8,258.6 597.4,271 C598,283.4 598.1,288.5 598.6,300 C599.1,311.5 599.9,325 600.5,340 C601.1,355 601.9,375 602.5,390 C603.1,405 603.5,418.3 604,430 C604.5,441.7 604.8,450 605.5,460 C606.2,470 607.1,480.8 608,490 C608.9,499.2 610.1,509 611,515 C611.9,521 612.7,523.6 613.3,526 C613.9,528.4 614,529.2 614.4,529.2 C614.8,529.2 615.2,529.2 615.8,526 C616.4,522.8 617.2,516.8 618,510 C618.8,503.2 619.8,494.2 620.5,485 C621.2,475.8 621.8,466.7 622.5,455 C623.2,443.3 624.1,430 625,415 C625.9,400 627.1,378.7 628,365 C628.9,351.3 629.7,340.8 630.5,333 C631.3,325.2 631.9,318.6 632.6,318.1 C633.3,317.6 634,322.2 634.8,330 C635.6,337.8 636.5,350.8 637.5,365 C638.5,379.2 639.8,399.5 641,415 C642.2,430.5 643.3,445.8 644.5,458 C645.7,470.2 646.8,479.3 648,488 C649.2,496.7 650.4,504 651.5,510 C652.6,516 653.7,520.9 654.5,524 C655.3,527.1 655.5,528.3 656.1,528.5 C656.7,528.7 657.1,528.1 658,525 C658.9,521.9 660.4,514.8 661.5,510 C662.6,505.2 663.7,499.4 664.5,496 C665.3,492.6 666,490.7 666.5,489.5 C667,488.3 667.2,488.4 667.6,488.7 C668,488.9 668.4,488.8 669,491 C669.6,493.2 670,494.7 671,502 C672,509.3 673.7,524.5 675,535 C676.3,545.5 677.8,556.2 679,565 C680.2,573.8 681.5,582 682.5,588 C683.5,594 684.5,598.2 685.3,601 C686,603.8 686.4,604.9 687,604.7 C687.6,604.5 688.1,603.3 688.8,600 C689.5,596.7 690.1,591.9 691,585 C691.9,578.1 693.4,571.3 694.2,558.8 C695,546.3 695.4,526.5 696,510 C696.6,493.5 697.2,475 697.8,460 C698.4,445 698.9,433.3 699.5,420 C700.1,406.7 700.9,392.5 701.5,380 C702.1,367.5 702.5,355.8 703,345 C703.5,334.2 703.9,327.3 704.3,315 C704.7,302.7 704.9,285.9 705.5,271 C706.1,256.1 707,238.8 707.7,225.7 C708.5,212.6 708.7,201.8 710,192.5 C711.3,183.2 713.2,175.8 715.3,169.8 C717.4,163.8 719.8,159.8 722.8,156.3 C725.8,152.8 729.7,150.3 733.4,148.7 C737.1,147 737.2,146.8 745,146.4 C752.8,146 757.5,146.1 780,146 C802.5,145.9 850,146 880,146 C910,146 940.8,145.9 960,146 C979.2,146.1 987,146.4 995,146.8 C1003,147.2 1004.2,147.8 1008,148.4 C1011.8,149 1014.7,148.8 1017.7,150.6 C1020.7,152.4 1023.5,155.4 1025.8,159.4 C1028.1,163.4 1029.7,168.7 1031.3,174.4 C1032.9,180.1 1034.2,184.3 1035.3,193.4 C1036.4,202.5 1037.3,217.4 1038.1,228.8 C1038.9,240.2 1039.6,251.8 1040.2,262 C1040.8,272.2 1041,278.7 1041.5,290 C1042,301.3 1042.5,315.8 1043,330 C1043.5,344.2 1044.2,360 1044.8,375 C1045.4,390 1045.8,400.8 1046.5,420 C1047.2,439.2 1048.1,468.3 1049,490 C1049.9,511.7 1051,534.2 1052,550 C1053,565.8 1054.1,576.5 1055,585 C1055.9,593.5 1056.7,597.6 1057.3,601 C1057.9,604.4 1058.3,605.3 1058.8,605.3 C1059.3,605.3 1059.8,604.2 1060.5,601 C1061.2,597.8 1061.9,592.8 1063,586 C1064.1,579.2 1065.6,569.3 1067,560 C1068.4,550.7 1070.1,538.7 1071.5,530 C1072.9,521.3 1074.5,512.8 1075.5,508 C1076.5,503.2 1077.1,502.4 1077.6,501 C1078.1,499.6 1078.3,499.4 1078.7,499.6 C1079.1,499.8 1079.4,499.6 1080,502 C1080.6,504.4 1081.5,509.2 1082.5,514 C1083.5,518.8 1085,527.1 1086,531 C1087,534.9 1087.8,536.1 1088.5,537.5 C1089.2,538.9 1089.5,539.6 1090,539.4 C1090.5,539.2 1091,539.2 1091.8,536.5 C1092.5,533.8 1093.5,529.9 1094.5,523 C1095.5,516.1 1096.8,505.8 1098,495 C1099.2,484.2 1100.4,470.5 1101.5,458 C1102.6,445.5 1103.7,433 1104.7,420 C1105.7,407 1106.6,393.3 1107.5,380 C1108.4,366.7 1109.4,349.8 1110.2,340 C1111,330.2 1111.7,324.9 1112.2,321 C1112.8,317.1 1113,316.7 1113.5,316.5 C1114,316.3 1114.4,316.4 1115,320 C1115.6,323.6 1116.2,328.8 1117,338 C1117.8,347.2 1118.6,361.3 1119.5,375 C1120.4,388.7 1121.3,405.5 1122.3,420 C1123.3,434.5 1124.5,449 1125.5,462 C1126.5,475 1127.6,489 1128.5,498 C1129.4,507 1130.2,511.9 1130.8,516 C1131.4,520 1131.8,522.1 1132.3,522.3 C1132.8,522.5 1133.2,521.2 1134,517 C1134.8,512.8 1135.9,506.5 1137,497 C1138.1,487.5 1139.5,472.8 1140.5,460 C1141.5,447.2 1142.2,435 1143,420 C1143.8,405 1144.4,385 1145,370 C1145.6,355 1146.3,341.7 1146.8,330 C1147.3,318.3 1147.8,312.3 1148.2,300 C1148.7,287.7 1148.8,270.1 1149.5,256 C1150.2,241.9 1151.4,227.7 1152.3,215.2 C1153.2,202.7 1153.7,190.3 1155,181.2 C1156.3,172.1 1157.9,166.9 1160.4,160.8 C1162.9,154.7 1166.6,148.2 1169.9,144.5 C1173.2,140.8 1175.8,139.8 1180,138.6 C1184.2,137.3 1188.2,137.3 1195,137 C1201.8,136.7 1216.7,136.7 1221,136.6" fill="none" stroke="#66ad8b" stroke-width="3.2" stroke-linejoin="round" stroke-linecap="round"/>
<line x1="121" y1="132.9" x2="364.7" y2="132.9" stroke="#7fabc4" stroke-width="2.9" stroke-dasharray="8.3 7.3" stroke-dashoffset="0"/>
<line x1="284.2" y1="138.5" x2="513" y2="138.5" stroke="#7fabc4" stroke-width="2.9" stroke-dasharray="8.3 7.3" stroke-dashoffset="0"/>
<line x1="534.5" y1="136.3" x2="685" y2="136.3" stroke="#7fabc4" stroke-width="2.9" stroke-dasharray="8.3 7.3" stroke-dashoffset="0"/>
<line x1="620.9" y1="146" x2="842.6" y2="146" stroke="#7fabc4" stroke-width="2.9" stroke-dasharray="8.3 7.3" stroke-dashoffset="0"/>
<line x1="1022.9" y1="74.2" x2="1078" y2="74.2" stroke="#7fabc4" stroke-width="2.9" stroke-dasharray="8.3 7.3" stroke-dashoffset="0"/>
<line x1="1116.4" y1="74.2" x2="1172" y2="74.2" stroke="#7fabc4" stroke-width="2.9" stroke-dasharray="8.3 7.3" stroke-dashoffset="0"/>
<line x1="713.8" y1="223.2" x2="916.7" y2="223.2" stroke="#7fabc4" stroke-width="2.9" stroke-dasharray="8.3 7.3" stroke-dashoffset="0"/>
<line x1="713.8" y1="293.5" x2="916.7" y2="293.5" stroke="#7fabc4" stroke-width="2.9" stroke-dasharray="8.3 7.3" stroke-dashoffset="0"/>
<line x1="750.4" y1="374.2" x2="858" y2="374.2" stroke="#7fabc4" stroke-width="2.9" stroke-dasharray="8.3 7.3" stroke-dashoffset="0"/>
<line x1="888.6" y1="374.2" x2="982" y2="374.2" stroke="#7fabc4" stroke-width="2.9" stroke-dasharray="8.3 7.3" stroke-dashoffset="0"/>
<line x1="656.5" y1="533.4" x2="656.5" y2="606" stroke="#7fabc4" stroke-width="2.9" stroke-dasharray="8 7.5" stroke-dashoffset="0"/>
<line x1="1090.3" y1="542.9" x2="1090.3" y2="612" stroke="#7fabc4" stroke-width="2.9" stroke-dasharray="8 7.5" stroke-dashoffset="0"/>
<line x1="275.6" y1="185" x2="299.5" y2="222.7" stroke="#7fba86" stroke-width="7"/>
<line x1="275.6" y1="185" x2="299.5" y2="222.7" stroke="#b6eebe" stroke-width="3.15"/>
<line x1="299.5" y1="222.7" x2="323.4" y2="260.4" stroke="#5f90a8" stroke-width="7"/>
<line x1="299.5" y1="222.7" x2="323.4" y2="260.4" stroke="#8fc2d8" stroke-width="3.15"/>
<line x1="381.7" y1="220" x2="352.5" y2="240.2" stroke="#7fba86" stroke-width="7"/>
<line x1="381.7" y1="220" x2="352.5" y2="240.2" stroke="#b6eebe" stroke-width="3.15"/>
<line x1="352.5" y1="240.2" x2="323.4" y2="260.4" stroke="#5f90a8" stroke-width="7"/>
<line x1="352.5" y1="240.2" x2="323.4" y2="260.4" stroke="#8fc2d8" stroke-width="3.15"/>
<line x1="372.2" y1="219" x2="347.8" y2="239.7" stroke="#7fba86" stroke-width="7"/>
<line x1="372.2" y1="219" x2="347.8" y2="239.7" stroke="#b6eebe" stroke-width="3.15"/>
<line x1="347.8" y1="239.7" x2="323.4" y2="260.4" stroke="#5f90a8" stroke-width="7"/>
<line x1="347.8" y1="239.7" x2="323.4" y2="260.4" stroke="#8fc2d8" stroke-width="3.15"/>
<line x1="259.3" y1="288" x2="291.4" y2="274.2" stroke="#7fba86" stroke-width="7"/>
<line x1="259.3" y1="288" x2="291.4" y2="274.2" stroke="#b6eebe" stroke-width="3.15"/>
<line x1="291.4" y1="274.2" x2="323.4" y2="260.4" stroke="#5f90a8" stroke-width="7"/>
<line x1="291.4" y1="274.2" x2="323.4" y2="260.4" stroke="#8fc2d8" stroke-width="3.15"/>
<line x1="275.6" y1="288" x2="299.5" y2="274.2" stroke="#7fba86" stroke-width="7"/>
<line x1="275.6" y1="288" x2="299.5" y2="274.2" stroke="#b6eebe" stroke-width="3.15"/>
<line x1="299.5" y1="274.2" x2="323.4" y2="260.4" stroke="#5f90a8" stroke-width="7"/>
<line x1="299.5" y1="274.2" x2="323.4" y2="260.4" stroke="#8fc2d8" stroke-width="3.15"/>
<line x1="381" y1="323" x2="352.2" y2="291.7" stroke="#7fba86" stroke-width="7"/>
<line x1="381" y1="323" x2="352.2" y2="291.7" stroke="#b6eebe" stroke-width="3.15"/>
<line x1="352.2" y1="291.7" x2="323.4" y2="260.4" stroke="#5f90a8" stroke-width="7"/>
<line x1="352.2" y1="291.7" x2="323.4" y2="260.4" stroke="#8fc2d8" stroke-width="3.15"/>
<line x1="275.6" y1="288" x2="299.8" y2="316.6" stroke="#7fba86" stroke-width="7"/>
<line x1="275.6" y1="288" x2="299.8" y2="316.6" stroke="#b6eebe" stroke-width="3.15"/>
<line x1="299.8" y1="316.6" x2="324" y2="345.3" stroke="#5f90a8" stroke-width="7"/>
<line x1="299.8" y1="316.6" x2="324" y2="345.3" stroke="#8fc2d8" stroke-width="3.15"/>
<line x1="381" y1="323" x2="352.5" y2="334.1" stroke="#7fba86" stroke-width="7"/>
<line x1="381" y1="323" x2="352.5" y2="334.1" stroke="#b6eebe" stroke-width="3.15"/>
<line x1="352.5" y1="334.1" x2="324" y2="345.3" stroke="#5f90a8" stroke-width="7"/>
<line x1="352.5" y1="334.1" x2="324" y2="345.3" stroke="#8fc2d8" stroke-width="3.15"/>
<line x1="275.3" y1="392" x2="299.6" y2="368.6" stroke="#7fba86" stroke-width="7"/>
<line x1="275.3" y1="392" x2="299.6" y2="368.6" stroke="#b6eebe" stroke-width="3.15"/>
<line x1="299.6" y1="368.6" x2="324" y2="345.3" stroke="#5f90a8" stroke-width="7"/>
<line x1="299.6" y1="368.6" x2="324" y2="345.3" stroke="#8fc2d8" stroke-width="3.15"/>
<line x1="372.7" y1="426.6" x2="348.4" y2="386" stroke="#7fba86" stroke-width="7"/>
<line x1="372.7" y1="426.6" x2="348.4" y2="386" stroke="#b6eebe" stroke-width="3.15"/>
<line x1="348.4" y1="386" x2="324" y2="345.3" stroke="#5f90a8" stroke-width="7"/>
<line x1="348.4" y1="386" x2="324" y2="345.3" stroke="#8fc2d8" stroke-width="3.15"/>
<circle cx="381.7" cy="220" r="15" fill="url(#gA)"/>
<circle cx="372.2" cy="219" r="15" fill="url(#gA)"/>
<circle cx="275.6" cy="185" r="15.2" fill="url(#gA)"/>
<circle cx="323.4" cy="260.4" r="20.4" fill="url(#mA)"/>
<circle cx="259.3" cy="288" r="15" fill="url(#gA)"/>
<circle cx="275.6" cy="288" r="15" fill="url(#gA)"/>
<circle cx="381" cy="323" r="15.2" fill="url(#gA)"/>
<circle cx="324" cy="345.3" r="20.4" fill="url(#mA)"/>
<circle cx="275.3" cy="392" r="15.2" fill="url(#gA)"/>
<circle cx="372.7" cy="426.6" r="15.2" fill="url(#gA)"/>
<line x1="260" y1="288" x2="260" y2="455" stroke="#66ad8b" stroke-width="2.7" stroke-dasharray="6 3.6" stroke-dashoffset="0"/>
<line x1="275.2" y1="392" x2="275.2" y2="514" stroke="#66ad8b" stroke-width="2.7" stroke-dasharray="6 3.6" stroke-dashoffset="0"/>
<line x1="323.7" y1="345.3" x2="323.7" y2="538" stroke="#66ad8b" stroke-width="2.7" stroke-dasharray="6 3.6" stroke-dashoffset="0"/>
<line x1="372.5" y1="426.6" x2="372.5" y2="523" stroke="#66ad8b" stroke-width="2.7" stroke-dasharray="6 3.6" stroke-dashoffset="0"/>
<line x1="381.6" y1="323" x2="381.6" y2="541" stroke="#66ad8b" stroke-width="2.7" stroke-dasharray="6 3.6" stroke-dashoffset="0"/>
<line x1="322.3" y1="48" x2="322.3" y2="106.7" stroke="#7fabc4" stroke-width="3" />
<polygon points="322.3,126.7 313.3,95.7 322.3,103.7 331.3,95.7" fill="#7fabc4"/>
<line x1="322.3" y1="163.8" x2="322.3" y2="223.5" stroke="#7fabc4" stroke-width="3" />
<polygon points="322.3,143.8 331.3,174.8 322.3,166.8 313.3,174.8" fill="#7fabc4"/>
<line x1="650.8" y1="50.8" x2="650.8" y2="109.3" stroke="#7fabc4" stroke-width="3" />
<polygon points="650.8,129.3 641.8,98.3 650.8,106.3 659.8,98.3" fill="#7fabc4"/>
<line x1="650.8" y1="170.2" x2="650.8" y2="229.5" stroke="#7fabc4" stroke-width="3" />
<polygon points="650.8,150.2 659.8,181.2 650.8,173.2 641.8,181.2" fill="#7fabc4"/>
<line x1="266" y1="575.8" x2="355.8" y2="575.8" stroke="#66ad8b" stroke-width="6" />
<polygon points="354.8,564.3 387.4,575.8 354.8,587.3" fill="#66ad8b"/>
<line x1="103.6" y1="727.5" x2="1221" y2="727.5" stroke="#111" stroke-width="1.7" />
<line x1="103.6" y1="1317.8" x2="1221" y2="1317.8" stroke="#111" stroke-width="1.7" />
<line x1="103.6" y1="727.5" x2="103.6" y2="1318.6" stroke="#111" stroke-width="1.7" />
<line x1="1221" y1="726.7" x2="1221" y2="1318.6" stroke="#111" stroke-width="1.7" />
<rect x="513.3" y="728.5" width="21.5" height="588.8" fill="#d7e5ed"/>
<line x1="94.6" y1="727.4" x2="103.6" y2="727.4" stroke="#111" stroke-width="1.7" />
<text x="87.1" y="734.3" font-size="24" text-anchor="end" fill="#111" >8</text>
<line x1="99.1" y1="772.8" x2="103.6" y2="772.8" stroke="#111" stroke-width="1.7" />
<line x1="94.6" y1="818.2" x2="103.6" y2="818.2" stroke="#111" stroke-width="1.7" />
<text x="87.1" y="825.1" font-size="24" text-anchor="end" fill="#111" >4</text>
<line x1="99.1" y1="863.6" x2="103.6" y2="863.6" stroke="#111" stroke-width="1.7" />
<line x1="94.6" y1="909" x2="103.6" y2="909" stroke="#111" stroke-width="1.7" />
<text x="87.1" y="915.9" font-size="24" text-anchor="end" fill="#111" >0</text>
<line x1="99.1" y1="954.4" x2="103.6" y2="954.4" stroke="#111" stroke-width="1.7" />
<line x1="94.6" y1="999.8" x2="103.6" y2="999.8" stroke="#111" stroke-width="1.7" />
<text x="87.1" y="1006.7" font-size="24" text-anchor="end" fill="#111" >−4</text>
<line x1="99.1" y1="1045.2" x2="103.6" y2="1045.2" stroke="#111" stroke-width="1.7" />
<line x1="94.6" y1="1090.6" x2="103.6" y2="1090.6" stroke="#111" stroke-width="1.7" />
<text x="87.1" y="1097.5" font-size="24" text-anchor="end" fill="#111" >−8</text>
<line x1="99.1" y1="1136" x2="103.6" y2="1136" stroke="#111" stroke-width="1.7" />
<line x1="94.6" y1="1181.4" x2="103.6" y2="1181.4" stroke="#111" stroke-width="1.7" />
<text x="87.1" y="1188.3" font-size="24" text-anchor="end" fill="#111" >−12</text>
<line x1="99.1" y1="1226.8" x2="103.6" y2="1226.8" stroke="#111" stroke-width="1.7" />
<line x1="94.6" y1="1272.2" x2="103.6" y2="1272.2" stroke="#111" stroke-width="1.7" />
<text x="87.1" y="1279.1" font-size="24" text-anchor="end" fill="#111" >−16</text>
<line x1="99.1" y1="1317.6" x2="103.6" y2="1317.6" stroke="#111" stroke-width="1.7" />
<line x1="1221" y1="749.4" x2="1225.5" y2="749.4" stroke="#111" stroke-width="1.7" />
<line x1="1221" y1="790.4" x2="1230" y2="790.4" stroke="#111" stroke-width="1.7" />
<text x="1237" y="797.3" font-size="24" text-anchor="start" fill="#111" >5</text>
<line x1="1221" y1="831.5" x2="1225.5" y2="831.5" stroke="#111" stroke-width="1.7" />
<line x1="1221" y1="872.5" x2="1230" y2="872.5" stroke="#111" stroke-width="1.7" />
<text x="1237" y="879.4" font-size="24" text-anchor="start" fill="#111" >0</text>
<line x1="1221" y1="913.5" x2="1225.5" y2="913.5" stroke="#111" stroke-width="1.7" />
<line x1="1221" y1="954.6" x2="1230" y2="954.6" stroke="#111" stroke-width="1.7" />
<text x="1237" y="961.5" font-size="24" text-anchor="start" fill="#111" >−5</text>
<line x1="1221" y1="995.6" x2="1225.5" y2="995.6" stroke="#111" stroke-width="1.7" />
<line x1="1221" y1="1036.7" x2="1230" y2="1036.7" stroke="#111" stroke-width="1.7" />
<text x="1237" y="1043.6" font-size="24" text-anchor="start" fill="#111" >−10</text>
<line x1="1221" y1="1077.8" x2="1225.5" y2="1077.8" stroke="#111" stroke-width="1.7" />
<line x1="1221" y1="1118.8" x2="1230" y2="1118.8" stroke="#111" stroke-width="1.7" />
<text x="1237" y="1125.7" font-size="24" text-anchor="start" fill="#111" >−15</text>
<line x1="1221" y1="1159.8" x2="1225.5" y2="1159.8" stroke="#111" stroke-width="1.7" />
<line x1="1221" y1="1200.9" x2="1230" y2="1200.9" stroke="#111" stroke-width="1.7" />
<text x="1237" y="1207.8" font-size="24" text-anchor="start" fill="#111" >−20</text>
<line x1="1221" y1="1242" x2="1225.5" y2="1242" stroke="#111" stroke-width="1.7" />
<line x1="1221" y1="1283" x2="1230" y2="1283" stroke="#111" stroke-width="1.7" />
<text x="1237" y="1289.9" font-size="24" text-anchor="start" fill="#111" >−25</text>
<line x1="103.6" y1="1317.8" x2="103.6" y2="1326.8" stroke="#111" stroke-width="1.7" />
<text x="103.6" y="1354.3" font-size="24" text-anchor="middle" fill="#111" >4</text>
<line x1="140" y1="1317.8" x2="140" y2="1322.3" stroke="#111" stroke-width="1.7" />
<line x1="176.4" y1="1317.8" x2="176.4" y2="1326.8" stroke="#111" stroke-width="1.7" />
<text x="176.4" y="1354.3" font-size="24" text-anchor="middle" fill="#111" >6</text>
<line x1="212.8" y1="1317.8" x2="212.8" y2="1322.3" stroke="#111" stroke-width="1.7" />
<line x1="249.2" y1="1317.8" x2="249.2" y2="1326.8" stroke="#111" stroke-width="1.7" />
<text x="249.2" y="1354.3" font-size="24" text-anchor="middle" fill="#111" >8</text>
<line x1="285.6" y1="1317.8" x2="285.6" y2="1322.3" stroke="#111" stroke-width="1.7" />
<line x1="322" y1="1317.8" x2="322" y2="1326.8" stroke="#111" stroke-width="1.7" />
<text x="322" y="1354.3" font-size="24" text-anchor="middle" fill="#111" >10</text>
<line x1="358.4" y1="1317.8" x2="358.4" y2="1322.3" stroke="#111" stroke-width="1.7" />
<line x1="394.8" y1="1317.8" x2="394.8" y2="1326.8" stroke="#111" stroke-width="1.7" />
<text x="394.8" y="1354.3" font-size="24" text-anchor="middle" fill="#111" >12</text>
<line x1="431.2" y1="1317.8" x2="431.2" y2="1322.3" stroke="#111" stroke-width="1.7" />
<line x1="467.6" y1="1317.8" x2="467.6" y2="1326.8" stroke="#111" stroke-width="1.7" />
<text x="467.6" y="1354.3" font-size="24" text-anchor="middle" fill="#111" >14</text>
<line x1="504" y1="1317.8" x2="504" y2="1322.3" stroke="#111" stroke-width="1.7" />
<line x1="565.1" y1="1317.8" x2="565.1" y2="1326.8" stroke="#111" stroke-width="1.7" />
<text x="565.1" y="1354.3" font-size="24" text-anchor="middle" fill="#111" >5</text>
<line x1="610.7" y1="1317.8" x2="610.7" y2="1322.3" stroke="#111" stroke-width="1.7" />
<line x1="656.2" y1="1317.8" x2="656.2" y2="1326.8" stroke="#111" stroke-width="1.7" />
<text x="656.2" y="1354.3" font-size="24" text-anchor="middle" fill="#111" >10</text>
<line x1="701.8" y1="1317.8" x2="701.8" y2="1322.3" stroke="#111" stroke-width="1.7" />
<line x1="747.3" y1="1317.8" x2="747.3" y2="1326.8" stroke="#111" stroke-width="1.7" />
<text x="747.3" y="1354.3" font-size="24" text-anchor="middle" fill="#111" >15</text>
<line x1="792.9" y1="1317.8" x2="792.9" y2="1322.3" stroke="#111" stroke-width="1.7" />
<line x1="838.4" y1="1317.8" x2="838.4" y2="1326.8" stroke="#111" stroke-width="1.7" />
<text x="838.4" y="1354.3" font-size="24" text-anchor="middle" fill="#111" >20</text>
<line x1="884" y1="1317.8" x2="884" y2="1322.3" stroke="#111" stroke-width="1.7" />
<line x1="929.5" y1="1317.8" x2="929.5" y2="1326.8" stroke="#111" stroke-width="1.7" />
<text x="929.5" y="1354.3" font-size="24" text-anchor="middle" fill="#111" >25</text>
<line x1="975" y1="1317.8" x2="975" y2="1322.3" stroke="#111" stroke-width="1.7" />
<line x1="1020.6" y1="1317.8" x2="1020.6" y2="1326.8" stroke="#111" stroke-width="1.7" />
<text x="1020.6" y="1354.3" font-size="24" text-anchor="middle" fill="#111" >30</text>
<line x1="1066.2" y1="1317.8" x2="1066.2" y2="1322.3" stroke="#111" stroke-width="1.7" />
<line x1="1111.7" y1="1317.8" x2="1111.7" y2="1326.8" stroke="#111" stroke-width="1.7" />
<text x="1111.7" y="1354.3" font-size="24" text-anchor="middle" fill="#111" >35</text>
<line x1="1157.2" y1="1317.8" x2="1157.2" y2="1322.3" stroke="#111" stroke-width="1.7" />
<line x1="1202.8" y1="1317.8" x2="1202.8" y2="1326.8" stroke="#111" stroke-width="1.7" />
<text x="1202.8" y="1354.3" font-size="24" text-anchor="middle" fill="#111" >40</text>
<line x1="516.3" y1="727.5" x2="531.8" y2="727.5" stroke="white" stroke-width="5"/>
<line x1="513.8" y1="738" x2="525.8" y2="718" stroke="#111" stroke-width="1.7" />
<line x1="521.3" y1="738" x2="533.8" y2="718" stroke="#111" stroke-width="1.7" />
<line x1="516.3" y1="1317.8" x2="531.8" y2="1317.8" stroke="white" stroke-width="5"/>
<line x1="513.8" y1="1328.3" x2="525.8" y2="1308.3" stroke="#111" stroke-width="1.7" />
<line x1="521.3" y1="1328.3" x2="533.8" y2="1308.3" stroke="#111" stroke-width="1.7" />
<line x1="1031.7" y1="727.5" x2="1031.7" y2="1317.8" stroke="#7fabc4" stroke-width="3" />
<line x1="1173.8" y1="727.5" x2="1173.8" y2="1317.8" stroke="#7fabc4" stroke-width="3" />
<line x1="882.5" y1="941.4" x2="872" y2="919.5" stroke="#62c4a8" stroke-width="2.6"/>
<line x1="882.5" y1="941.4" x2="895.5" y2="926.4" stroke="#62c4a8" stroke-width="2.6"/>
<line x1="882.5" y1="941.4" x2="872" y2="958.8" stroke="#62c4a8" stroke-width="2.6"/>
<line x1="882.5" y1="941.4" x2="880.7" y2="964.3" stroke="#62c4a8" stroke-width="2.6"/>
<line x1="872" y1="942" x2="895.5" y2="926.4" stroke="#62c4a8" stroke-width="2.6"/>
<line x1="872" y1="942" x2="880.7" y2="964.3" stroke="#62c4a8" stroke-width="2.6"/>
<line x1="872" y1="942" x2="892.8" y2="943.6" stroke="#62c4a8" stroke-width="2.6"/>
<line x1="903.3" y1="944.7" x2="895.5" y2="926.4" stroke="#62c4a8" stroke-width="2.6"/>
<line x1="903.3" y1="944.7" x2="920.1" y2="927.1" stroke="#62c4a8" stroke-width="2.6"/>
<line x1="903.3" y1="944.7" x2="890.4" y2="958.7" stroke="#62c4a8" stroke-width="2.6"/>
<line x1="903.3" y1="944.7" x2="897.9" y2="967.1" stroke="#62c4a8" stroke-width="2.6"/>
<line x1="892.8" y1="943.6" x2="920.1" y2="927.1" stroke="#62c4a8" stroke-width="2.6"/>
<line x1="892.8" y1="943.6" x2="897.9" y2="967.1" stroke="#62c4a8" stroke-width="2.6"/>
<line x1="892.8" y1="943.6" x2="913.1" y2="948.5" stroke="#62c4a8" stroke-width="2.6"/>
<line x1="923.3" y1="951.2" x2="920.1" y2="927.1" stroke="#62c4a8" stroke-width="2.6"/>
<line x1="923.3" y1="951.2" x2="940.3" y2="940.9" stroke="#62c4a8" stroke-width="2.6"/>
<line x1="923.3" y1="951.2" x2="907.9" y2="964.5" stroke="#62c4a8" stroke-width="2.6"/>
<line x1="923.3" y1="951.2" x2="914.5" y2="972.4" stroke="#62c4a8" stroke-width="2.6"/>
<line x1="913.1" y1="948.5" x2="940.3" y2="940.9" stroke="#62c4a8" stroke-width="2.6"/>
<line x1="913.1" y1="948.5" x2="914.5" y2="972.4" stroke="#62c4a8" stroke-width="2.6"/>
<line x1="913.1" y1="948.5" x2="932.4" y2="956.5" stroke="#62c4a8" stroke-width="2.6"/>
<line x1="942" y1="960.7" x2="940.3" y2="940.9" stroke="#62c4a8" stroke-width="2.6"/>
<line x1="942" y1="960.7" x2="963.4" y2="949.2" stroke="#62c4a8" stroke-width="2.6"/>
<line x1="942" y1="960.7" x2="925.5" y2="970" stroke="#62c4a8" stroke-width="2.6"/>
<line x1="942" y1="960.7" x2="930" y2="980.4" stroke="#62c4a8" stroke-width="2.6"/>
<line x1="932.4" y1="956.5" x2="963.4" y2="949.2" stroke="#62c4a8" stroke-width="2.6"/>
<line x1="932.4" y1="956.5" x2="930" y2="980.4" stroke="#62c4a8" stroke-width="2.6"/>
<line x1="932.4" y1="956.5" x2="950.2" y2="967.4" stroke="#62c4a8" stroke-width="2.6"/>
<line x1="959" y1="973.1" x2="963.4" y2="949.2" stroke="#62c4a8" stroke-width="2.6"/>
<line x1="959" y1="973.1" x2="978.4" y2="968.6" stroke="#62c4a8" stroke-width="2.6"/>
<line x1="959" y1="973.1" x2="940.3" y2="981" stroke="#62c4a8" stroke-width="2.6"/>
<line x1="959" y1="973.1" x2="944.1" y2="990.6" stroke="#62c4a8" stroke-width="2.6"/>
<line x1="950.2" y1="967.4" x2="978.4" y2="968.6" stroke="#62c4a8" stroke-width="2.6"/>
<line x1="950.2" y1="967.4" x2="944.1" y2="990.6" stroke="#62c4a8" stroke-width="2.6"/>
<line x1="950.2" y1="967.4" x2="966" y2="981" stroke="#62c4a8" stroke-width="2.6"/>
<line x1="973.9" y1="988" x2="978.4" y2="968.6" stroke="#62c4a8" stroke-width="2.6"/>
<line x1="973.9" y1="988" x2="997.8" y2="983.6" stroke="#62c4a8" stroke-width="2.6"/>
<line x1="973.9" y1="988" x2="955.3" y2="991.7" stroke="#62c4a8" stroke-width="2.6"/>
<line x1="973.9" y1="988" x2="956.4" y2="1002.9" stroke="#62c4a8" stroke-width="2.6"/>
<line x1="966" y1="981" x2="997.8" y2="983.6" stroke="#62c4a8" stroke-width="2.6"/>
<line x1="966" y1="981" x2="956.4" y2="1002.9" stroke="#62c4a8" stroke-width="2.6"/>
<line x1="966" y1="981" x2="979.6" y2="996.8" stroke="#62c4a8" stroke-width="2.6"/>
<line x1="986.3" y1="1005" x2="997.8" y2="983.6" stroke="#62c4a8" stroke-width="2.6"/>
<line x1="986.3" y1="1005" x2="1006.1" y2="1006.7" stroke="#62c4a8" stroke-width="2.6"/>
<line x1="986.3" y1="1005" x2="966" y2="1006.7" stroke="#62c4a8" stroke-width="2.6"/>
<line x1="986.3" y1="1005" x2="966.6" y2="1017" stroke="#62c4a8" stroke-width="2.6"/>
<line x1="979.6" y1="996.8" x2="1006.1" y2="1006.7" stroke="#62c4a8" stroke-width="2.6"/>
<line x1="979.6" y1="996.8" x2="966.6" y2="1017" stroke="#62c4a8" stroke-width="2.6"/>
<line x1="979.6" y1="996.8" x2="990.5" y2="1014.6" stroke="#62c4a8" stroke-width="2.6"/>
<line x1="995.8" y1="1023.7" x2="1006.1" y2="1006.7" stroke="#62c4a8" stroke-width="2.6"/>
<line x1="995.8" y1="1023.7" x2="1019.9" y2="1026.9" stroke="#62c4a8" stroke-width="2.6"/>
<line x1="995.8" y1="1023.7" x2="977" y2="1021.5" stroke="#62c4a8" stroke-width="2.6"/>
<line x1="995.8" y1="1023.7" x2="974.6" y2="1032.5" stroke="#62c4a8" stroke-width="2.6"/>
<line x1="990.5" y1="1014.6" x2="1019.9" y2="1026.9" stroke="#62c4a8" stroke-width="2.6"/>
<line x1="990.5" y1="1014.6" x2="974.6" y2="1032.5" stroke="#62c4a8" stroke-width="2.6"/>
<line x1="990.5" y1="1014.6" x2="998.5" y2="1033.9" stroke="#62c4a8" stroke-width="2.6"/>
<line x1="1002.3" y1="1043.7" x2="1019.9" y2="1026.9" stroke="#62c4a8" stroke-width="2.6"/>
<line x1="1002.3" y1="1043.7" x2="1020.6" y2="1051.5" stroke="#62c4a8" stroke-width="2.6"/>
<line x1="1002.3" y1="1043.7" x2="982.5" y2="1039.1" stroke="#62c4a8" stroke-width="2.6"/>
<line x1="1002.3" y1="1043.7" x2="979.9" y2="1049.1" stroke="#62c4a8" stroke-width="2.6"/>
<line x1="998.5" y1="1033.9" x2="1020.6" y2="1051.5" stroke="#62c4a8" stroke-width="2.6"/>
<line x1="998.5" y1="1033.9" x2="979.9" y2="1049.1" stroke="#62c4a8" stroke-width="2.6"/>
<line x1="998.5" y1="1033.9" x2="1003.4" y2="1054.2" stroke="#62c4a8" stroke-width="2.6"/>
<line x1="1005.6" y1="1064.5" x2="1020.6" y2="1051.5" stroke="#62c4a8" stroke-width="2.6"/>
<line x1="1005.6" y1="1064.5" x2="1027.5" y2="1075" stroke="#62c4a8" stroke-width="2.6"/>
<line x1="1005.6" y1="1064.5" x2="988.3" y2="1056.6" stroke="#62c4a8" stroke-width="2.6"/>
<line x1="1005.6" y1="1064.5" x2="982.7" y2="1066.3" stroke="#62c4a8" stroke-width="2.6"/>
<line x1="1003.4" y1="1054.2" x2="1027.5" y2="1075" stroke="#62c4a8" stroke-width="2.6"/>
<line x1="1003.4" y1="1054.2" x2="982.7" y2="1066.3" stroke="#62c4a8" stroke-width="2.6"/>
<line x1="1003.4" y1="1054.2" x2="1005" y2="1075" stroke="#62c4a8" stroke-width="2.6"/>
<line x1="1005.6" y1="1085.5" x2="1027.5" y2="1075" stroke="#62c4a8" stroke-width="2.6"/>
<line x1="1005.6" y1="1085.5" x2="1020.6" y2="1098.5" stroke="#62c4a8" stroke-width="2.6"/>
<line x1="1005.6" y1="1085.5" x2="988.2" y2="1075" stroke="#62c4a8" stroke-width="2.6"/>
<line x1="1005.6" y1="1085.5" x2="982.7" y2="1083.7" stroke="#62c4a8" stroke-width="2.6"/>
<line x1="1005" y1="1075" x2="1020.6" y2="1098.5" stroke="#62c4a8" stroke-width="2.6"/>
<line x1="1005" y1="1075" x2="982.7" y2="1083.7" stroke="#62c4a8" stroke-width="2.6"/>
<line x1="1005" y1="1075" x2="1003.4" y2="1095.8" stroke="#62c4a8" stroke-width="2.6"/>
<line x1="1002.3" y1="1106.3" x2="1020.6" y2="1098.5" stroke="#62c4a8" stroke-width="2.6"/>
<line x1="1002.3" y1="1106.3" x2="1019.9" y2="1123.1" stroke="#62c4a8" stroke-width="2.6"/>
<line x1="1002.3" y1="1106.3" x2="988.3" y2="1093.4" stroke="#62c4a8" stroke-width="2.6"/>
<line x1="1002.3" y1="1106.3" x2="979.9" y2="1100.9" stroke="#62c4a8" stroke-width="2.6"/>
<line x1="1003.4" y1="1095.8" x2="1019.9" y2="1123.1" stroke="#62c4a8" stroke-width="2.6"/>
<line x1="1003.4" y1="1095.8" x2="979.9" y2="1100.9" stroke="#62c4a8" stroke-width="2.6"/>
<line x1="1003.4" y1="1095.8" x2="998.5" y2="1116.1" stroke="#62c4a8" stroke-width="2.6"/>
<line x1="995.8" y1="1126.3" x2="1019.9" y2="1123.1" stroke="#62c4a8" stroke-width="2.6"/>
<line x1="995.8" y1="1126.3" x2="1006.1" y2="1143.3" stroke="#62c4a8" stroke-width="2.6"/>
<line x1="995.8" y1="1126.3" x2="982.5" y2="1110.9" stroke="#62c4a8" stroke-width="2.6"/>
<line x1="995.8" y1="1126.3" x2="974.6" y2="1117.5" stroke="#62c4a8" stroke-width="2.6"/>
<line x1="998.5" y1="1116.1" x2="1006.1" y2="1143.3" stroke="#62c4a8" stroke-width="2.6"/>
<line x1="998.5" y1="1116.1" x2="974.6" y2="1117.5" stroke="#62c4a8" stroke-width="2.6"/>
<line x1="998.5" y1="1116.1" x2="990.5" y2="1135.4" stroke="#62c4a8" stroke-width="2.6"/>
<line x1="986.3" y1="1145" x2="1006.1" y2="1143.3" stroke="#62c4a8" stroke-width="2.6"/>
<line x1="986.3" y1="1145" x2="997.8" y2="1166.4" stroke="#62c4a8" stroke-width="2.6"/>
<line x1="986.3" y1="1145" x2="977" y2="1128.5" stroke="#62c4a8" stroke-width="2.6"/>
<line x1="986.3" y1="1145" x2="966.6" y2="1133" stroke="#62c4a8" stroke-width="2.6"/>
<line x1="990.5" y1="1135.4" x2="997.8" y2="1166.4" stroke="#62c4a8" stroke-width="2.6"/>
<line x1="990.5" y1="1135.4" x2="966.6" y2="1133" stroke="#62c4a8" stroke-width="2.6"/>
<line x1="990.5" y1="1135.4" x2="979.6" y2="1153.2" stroke="#62c4a8" stroke-width="2.6"/>
<line x1="973.9" y1="1162" x2="997.8" y2="1166.4" stroke="#62c4a8" stroke-width="2.6"/>
<line x1="973.9" y1="1162" x2="978.4" y2="1181.4" stroke="#62c4a8" stroke-width="2.6"/>
<line x1="973.9" y1="1162" x2="966" y2="1143.3" stroke="#62c4a8" stroke-width="2.6"/>
<line x1="973.9" y1="1162" x2="956.4" y2="1147.1" stroke="#62c4a8" stroke-width="2.6"/>
<line x1="979.6" y1="1153.2" x2="978.4" y2="1181.4" stroke="#62c4a8" stroke-width="2.6"/>
<line x1="979.6" y1="1153.2" x2="956.4" y2="1147.1" stroke="#62c4a8" stroke-width="2.6"/>
<line x1="979.6" y1="1153.2" x2="966" y2="1169" stroke="#62c4a8" stroke-width="2.6"/>
<line x1="959" y1="1176.9" x2="978.4" y2="1181.4" stroke="#62c4a8" stroke-width="2.6"/>
<line x1="959" y1="1176.9" x2="963.4" y2="1200.8" stroke="#62c4a8" stroke-width="2.6"/>
<line x1="959" y1="1176.9" x2="955.3" y2="1158.3" stroke="#62c4a8" stroke-width="2.6"/>
<line x1="959" y1="1176.9" x2="944.1" y2="1159.4" stroke="#62c4a8" stroke-width="2.6"/>
<line x1="966" y1="1169" x2="963.4" y2="1200.8" stroke="#62c4a8" stroke-width="2.6"/>
<line x1="966" y1="1169" x2="944.1" y2="1159.4" stroke="#62c4a8" stroke-width="2.6"/>
<line x1="966" y1="1169" x2="950.2" y2="1182.6" stroke="#62c4a8" stroke-width="2.6"/>
<line x1="942" y1="1189.3" x2="963.4" y2="1200.8" stroke="#62c4a8" stroke-width="2.6"/>
<line x1="942" y1="1189.3" x2="940.3" y2="1209.1" stroke="#62c4a8" stroke-width="2.6"/>
<line x1="942" y1="1189.3" x2="940.3" y2="1169" stroke="#62c4a8" stroke-width="2.6"/>
<line x1="942" y1="1189.3" x2="930" y2="1169.6" stroke="#62c4a8" stroke-width="2.6"/>
<line x1="950.2" y1="1182.6" x2="940.3" y2="1209.1" stroke="#62c4a8" stroke-width="2.6"/>
<line x1="950.2" y1="1182.6" x2="930" y2="1169.6" stroke="#62c4a8" stroke-width="2.6"/>
<line x1="950.2" y1="1182.6" x2="932.4" y2="1193.5" stroke="#62c4a8" stroke-width="2.6"/>
<line x1="923.3" y1="1198.8" x2="940.3" y2="1209.1" stroke="#62c4a8" stroke-width="2.6"/>
<line x1="923.3" y1="1198.8" x2="920.1" y2="1222.9" stroke="#62c4a8" stroke-width="2.6"/>
<line x1="923.3" y1="1198.8" x2="925.5" y2="1180" stroke="#62c4a8" stroke-width="2.6"/>
<line x1="923.3" y1="1198.8" x2="914.5" y2="1177.6" stroke="#62c4a8" stroke-width="2.6"/>
<line x1="932.4" y1="1193.5" x2="920.1" y2="1222.9" stroke="#62c4a8" stroke-width="2.6"/>
<line x1="932.4" y1="1193.5" x2="914.5" y2="1177.6" stroke="#62c4a8" stroke-width="2.6"/>
<line x1="932.4" y1="1193.5" x2="913.1" y2="1201.5" stroke="#62c4a8" stroke-width="2.6"/>
<line x1="903.3" y1="1205.3" x2="920.1" y2="1222.9" stroke="#62c4a8" stroke-width="2.6"/>
<line x1="903.3" y1="1205.3" x2="895.5" y2="1223.6" stroke="#62c4a8" stroke-width="2.6"/>
<line x1="903.3" y1="1205.3" x2="907.9" y2="1185.5" stroke="#62c4a8" stroke-width="2.6"/>
<line x1="903.3" y1="1205.3" x2="897.9" y2="1182.9" stroke="#62c4a8" stroke-width="2.6"/>
<line x1="913.1" y1="1201.5" x2="895.5" y2="1223.6" stroke="#62c4a8" stroke-width="2.6"/>
<line x1="913.1" y1="1201.5" x2="897.9" y2="1182.9" stroke="#62c4a8" stroke-width="2.6"/>
<line x1="913.1" y1="1201.5" x2="892.8" y2="1206.4" stroke="#62c4a8" stroke-width="2.6"/>
<line x1="882.5" y1="1208.6" x2="895.5" y2="1223.6" stroke="#62c4a8" stroke-width="2.6"/>
<line x1="882.5" y1="1208.6" x2="872" y2="1230.5" stroke="#62c4a8" stroke-width="2.6"/>
<line x1="882.5" y1="1208.6" x2="890.4" y2="1191.3" stroke="#62c4a8" stroke-width="2.6"/>
<line x1="882.5" y1="1208.6" x2="880.7" y2="1185.7" stroke="#62c4a8" stroke-width="2.6"/>
<line x1="892.8" y1="1206.4" x2="872" y2="1230.5" stroke="#62c4a8" stroke-width="2.6"/>
<line x1="892.8" y1="1206.4" x2="880.7" y2="1185.7" stroke="#62c4a8" stroke-width="2.6"/>
<line x1="892.8" y1="1206.4" x2="872" y2="1208" stroke="#62c4a8" stroke-width="2.6"/>
<line x1="861.5" y1="1208.6" x2="872" y2="1230.5" stroke="#62c4a8" stroke-width="2.6"/>
<line x1="861.5" y1="1208.6" x2="848.5" y2="1223.6" stroke="#62c4a8" stroke-width="2.6"/>
<line x1="861.5" y1="1208.6" x2="872" y2="1191.2" stroke="#62c4a8" stroke-width="2.6"/>
<line x1="861.5" y1="1208.6" x2="863.3" y2="1185.7" stroke="#62c4a8" stroke-width="2.6"/>
<line x1="872" y1="1208" x2="848.5" y2="1223.6" stroke="#62c4a8" stroke-width="2.6"/>
<line x1="872" y1="1208" x2="863.3" y2="1185.7" stroke="#62c4a8" stroke-width="2.6"/>
<line x1="872" y1="1208" x2="851.2" y2="1206.4" stroke="#62c4a8" stroke-width="2.6"/>
<line x1="840.7" y1="1205.3" x2="848.5" y2="1223.6" stroke="#62c4a8" stroke-width="2.6"/>
<line x1="840.7" y1="1205.3" x2="823.9" y2="1222.9" stroke="#62c4a8" stroke-width="2.6"/>
<line x1="840.7" y1="1205.3" x2="853.6" y2="1191.3" stroke="#62c4a8" stroke-width="2.6"/>
<line x1="840.7" y1="1205.3" x2="846.1" y2="1182.9" stroke="#62c4a8" stroke-width="2.6"/>
<line x1="851.2" y1="1206.4" x2="823.9" y2="1222.9" stroke="#62c4a8" stroke-width="2.6"/>
<line x1="851.2" y1="1206.4" x2="846.1" y2="1182.9" stroke="#62c4a8" stroke-width="2.6"/>
<line x1="851.2" y1="1206.4" x2="830.9" y2="1201.5" stroke="#62c4a8" stroke-width="2.6"/>
<line x1="820.7" y1="1198.8" x2="823.9" y2="1222.9" stroke="#62c4a8" stroke-width="2.6"/>
<line x1="820.7" y1="1198.8" x2="803.7" y2="1209.1" stroke="#62c4a8" stroke-width="2.6"/>
<line x1="820.7" y1="1198.8" x2="836.1" y2="1185.5" stroke="#62c4a8" stroke-width="2.6"/>
<line x1="820.7" y1="1198.8" x2="829.5" y2="1177.6" stroke="#62c4a8" stroke-width="2.6"/>
<line x1="830.9" y1="1201.5" x2="803.7" y2="1209.1" stroke="#62c4a8" stroke-width="2.6"/>
<line x1="830.9" y1="1201.5" x2="829.5" y2="1177.6" stroke="#62c4a8" stroke-width="2.6"/>
<line x1="830.9" y1="1201.5" x2="811.6" y2="1193.5" stroke="#62c4a8" stroke-width="2.6"/>
<line x1="802" y1="1189.3" x2="803.7" y2="1209.1" stroke="#62c4a8" stroke-width="2.6"/>
<line x1="802" y1="1189.3" x2="780.6" y2="1200.8" stroke="#62c4a8" stroke-width="2.6"/>
<line x1="802" y1="1189.3" x2="818.5" y2="1180" stroke="#62c4a8" stroke-width="2.6"/>
<line x1="802" y1="1189.3" x2="814" y2="1169.6" stroke="#62c4a8" stroke-width="2.6"/>
<line x1="811.6" y1="1193.5" x2="780.6" y2="1200.8" stroke="#62c4a8" stroke-width="2.6"/>
<line x1="811.6" y1="1193.5" x2="814" y2="1169.6" stroke="#62c4a8" stroke-width="2.6"/>
<line x1="811.6" y1="1193.5" x2="793.8" y2="1182.6" stroke="#62c4a8" stroke-width="2.6"/>
<line x1="785" y1="1176.9" x2="780.6" y2="1200.8" stroke="#62c4a8" stroke-width="2.6"/>
<line x1="785" y1="1176.9" x2="765.6" y2="1181.4" stroke="#62c4a8" stroke-width="2.6"/>
<line x1="785" y1="1176.9" x2="803.7" y2="1169" stroke="#62c4a8" stroke-width="2.6"/>
<line x1="785" y1="1176.9" x2="799.9" y2="1159.4" stroke="#62c4a8" stroke-width="2.6"/>
<line x1="793.8" y1="1182.6" x2="765.6" y2="1181.4" stroke="#62c4a8" stroke-width="2.6"/>
<line x1="793.8" y1="1182.6" x2="799.9" y2="1159.4" stroke="#62c4a8" stroke-width="2.6"/>
<line x1="793.8" y1="1182.6" x2="778" y2="1169" stroke="#62c4a8" stroke-width="2.6"/>
<line x1="770.1" y1="1162" x2="765.6" y2="1181.4" stroke="#62c4a8" stroke-width="2.6"/>
<line x1="770.1" y1="1162" x2="746.2" y2="1166.4" stroke="#62c4a8" stroke-width="2.6"/>
<line x1="770.1" y1="1162" x2="788.7" y2="1158.3" stroke="#62c4a8" stroke-width="2.6"/>
<line x1="770.1" y1="1162" x2="787.6" y2="1147.1" stroke="#62c4a8" stroke-width="2.6"/>
<line x1="778" y1="1169" x2="746.2" y2="1166.4" stroke="#62c4a8" stroke-width="2.6"/>
<line x1="778" y1="1169" x2="787.6" y2="1147.1" stroke="#62c4a8" stroke-width="2.6"/>
<line x1="778" y1="1169" x2="764.4" y2="1153.2" stroke="#62c4a8" stroke-width="2.6"/>
<line x1="757.7" y1="1145" x2="746.2" y2="1166.4" stroke="#62c4a8" stroke-width="2.6"/>
<line x1="757.7" y1="1145" x2="737.9" y2="1143.3" stroke="#62c4a8" stroke-width="2.6"/>
<line x1="757.7" y1="1145" x2="778" y2="1143.3" stroke="#62c4a8" stroke-width="2.6"/>
<line x1="757.7" y1="1145" x2="777.4" y2="1133" stroke="#62c4a8" stroke-width="2.6"/>
<line x1="764.4" y1="1153.2" x2="737.9" y2="1143.3" stroke="#62c4a8" stroke-width="2.6"/>
<line x1="764.4" y1="1153.2" x2="777.4" y2="1133" stroke="#62c4a8" stroke-width="2.6"/>
<line x1="764.4" y1="1153.2" x2="753.5" y2="1135.4" stroke="#62c4a8" stroke-width="2.6"/>
<line x1="748.2" y1="1126.3" x2="737.9" y2="1143.3" stroke="#62c4a8" stroke-width="2.6"/>
<line x1="748.2" y1="1126.3" x2="724.1" y2="1123.1" stroke="#62c4a8" stroke-width="2.6"/>
<line x1="748.2" y1="1126.3" x2="767" y2="1128.5" stroke="#62c4a8" stroke-width="2.6"/>
<line x1="748.2" y1="1126.3" x2="769.4" y2="1117.5" stroke="#62c4a8" stroke-width="2.6"/>
<line x1="753.5" y1="1135.4" x2="724.1" y2="1123.1" stroke="#62c4a8" stroke-width="2.6"/>
<line x1="753.5" y1="1135.4" x2="769.4" y2="1117.5" stroke="#62c4a8" stroke-width="2.6"/>
<line x1="753.5" y1="1135.4" x2="745.5" y2="1116.1" stroke="#62c4a8" stroke-width="2.6"/>
<line x1="741.7" y1="1106.3" x2="724.1" y2="1123.1" stroke="#62c4a8" stroke-width="2.6"/>
<line x1="741.7" y1="1106.3" x2="723.4" y2="1098.5" stroke="#62c4a8" stroke-width="2.6"/>
<line x1="741.7" y1="1106.3" x2="761.5" y2="1110.9" stroke="#62c4a8" stroke-width="2.6"/>
<line x1="741.7" y1="1106.3" x2="764.1" y2="1100.9" stroke="#62c4a8" stroke-width="2.6"/>
<line x1="745.5" y1="1116.1" x2="723.4" y2="1098.5" stroke="#62c4a8" stroke-width="2.6"/>
<line x1="745.5" y1="1116.1" x2="764.1" y2="1100.9" stroke="#62c4a8" stroke-width="2.6"/>
<line x1="745.5" y1="1116.1" x2="740.6" y2="1095.8" stroke="#62c4a8" stroke-width="2.6"/>
<line x1="738.4" y1="1085.5" x2="723.4" y2="1098.5" stroke="#62c4a8" stroke-width="2.6"/>
<line x1="738.4" y1="1085.5" x2="716.5" y2="1075" stroke="#62c4a8" stroke-width="2.6"/>
<line x1="738.4" y1="1085.5" x2="755.7" y2="1093.4" stroke="#62c4a8" stroke-width="2.6"/>
<line x1="738.4" y1="1085.5" x2="761.3" y2="1083.7" stroke="#62c4a8" stroke-width="2.6"/>
<line x1="740.6" y1="1095.8" x2="716.5" y2="1075" stroke="#62c4a8" stroke-width="2.6"/>
<line x1="740.6" y1="1095.8" x2="761.3" y2="1083.7" stroke="#62c4a8" stroke-width="2.6"/>
<line x1="740.6" y1="1095.8" x2="739" y2="1075" stroke="#62c4a8" stroke-width="2.6"/>
<line x1="738.4" y1="1064.5" x2="716.5" y2="1075" stroke="#62c4a8" stroke-width="2.6"/>
<line x1="738.4" y1="1064.5" x2="723.4" y2="1051.5" stroke="#62c4a8" stroke-width="2.6"/>
<line x1="738.4" y1="1064.5" x2="755.8" y2="1075" stroke="#62c4a8" stroke-width="2.6"/>
<line x1="738.4" y1="1064.5" x2="761.3" y2="1066.3" stroke="#62c4a8" stroke-width="2.6"/>
<line x1="739" y1="1075" x2="723.4" y2="1051.5" stroke="#62c4a8" stroke-width="2.6"/>
<line x1="739" y1="1075" x2="761.3" y2="1066.3" stroke="#62c4a8" stroke-width="2.6"/>
<line x1="739" y1="1075" x2="740.6" y2="1054.2" stroke="#62c4a8" stroke-width="2.6"/>
<line x1="741.7" y1="1043.7" x2="723.4" y2="1051.5" stroke="#62c4a8" stroke-width="2.6"/>
<line x1="741.7" y1="1043.7" x2="724.1" y2="1026.9" stroke="#62c4a8" stroke-width="2.6"/>
<line x1="741.7" y1="1043.7" x2="755.7" y2="1056.6" stroke="#62c4a8" stroke-width="2.6"/>
<line x1="741.7" y1="1043.7" x2="764.1" y2="1049.1" stroke="#62c4a8" stroke-width="2.6"/>
<line x1="740.6" y1="1054.2" x2="724.1" y2="1026.9" stroke="#62c4a8" stroke-width="2.6"/>
<line x1="740.6" y1="1054.2" x2="764.1" y2="1049.1" stroke="#62c4a8" stroke-width="2.6"/>
<line x1="740.6" y1="1054.2" x2="745.5" y2="1033.9" stroke="#62c4a8" stroke-width="2.6"/>
<line x1="748.2" y1="1023.7" x2="724.1" y2="1026.9" stroke="#62c4a8" stroke-width="2.6"/>
<line x1="748.2" y1="1023.7" x2="737.9" y2="1006.7" stroke="#62c4a8" stroke-width="2.6"/>
<line x1="748.2" y1="1023.7" x2="761.5" y2="1039.1" stroke="#62c4a8" stroke-width="2.6"/>
<line x1="748.2" y1="1023.7" x2="769.4" y2="1032.5" stroke="#62c4a8" stroke-width="2.6"/>
<line x1="745.5" y1="1033.9" x2="737.9" y2="1006.7" stroke="#62c4a8" stroke-width="2.6"/>
<line x1="745.5" y1="1033.9" x2="769.4" y2="1032.5" stroke="#62c4a8" stroke-width="2.6"/>
<line x1="745.5" y1="1033.9" x2="753.5" y2="1014.6" stroke="#62c4a8" stroke-width="2.6"/>
<line x1="757.7" y1="1005" x2="737.9" y2="1006.7" stroke="#62c4a8" stroke-width="2.6"/>
<line x1="757.7" y1="1005" x2="746.2" y2="983.6" stroke="#62c4a8" stroke-width="2.6"/>
<line x1="757.7" y1="1005" x2="767" y2="1021.5" stroke="#62c4a8" stroke-width="2.6"/>
<line x1="757.7" y1="1005" x2="777.4" y2="1017" stroke="#62c4a8" stroke-width="2.6"/>
<line x1="753.5" y1="1014.6" x2="746.2" y2="983.6" stroke="#62c4a8" stroke-width="2.6"/>
<line x1="753.5" y1="1014.6" x2="777.4" y2="1017" stroke="#62c4a8" stroke-width="2.6"/>
<line x1="753.5" y1="1014.6" x2="764.4" y2="996.8" stroke="#62c4a8" stroke-width="2.6"/>
<line x1="770.1" y1="988" x2="746.2" y2="983.6" stroke="#62c4a8" stroke-width="2.6"/>
<line x1="770.1" y1="988" x2="765.6" y2="968.6" stroke="#62c4a8" stroke-width="2.6"/>
<line x1="770.1" y1="988" x2="778" y2="1006.7" stroke="#62c4a8" stroke-width="2.6"/>
<line x1="770.1" y1="988" x2="787.6" y2="1002.9" stroke="#62c4a8" stroke-width="2.6"/>
<line x1="764.4" y1="996.8" x2="765.6" y2="968.6" stroke="#62c4a8" stroke-width="2.6"/>
<line x1="764.4" y1="996.8" x2="787.6" y2="1002.9" stroke="#62c4a8" stroke-width="2.6"/>
<line x1="764.4" y1="996.8" x2="778" y2="981" stroke="#62c4a8" stroke-width="2.6"/>
<line x1="785" y1="973.1" x2="765.6" y2="968.6" stroke="#62c4a8" stroke-width="2.6"/>
<line x1="785" y1="973.1" x2="780.6" y2="949.2" stroke="#62c4a8" stroke-width="2.6"/>
<line x1="785" y1="973.1" x2="788.7" y2="991.7" stroke="#62c4a8" stroke-width="2.6"/>
<line x1="785" y1="973.1" x2="799.9" y2="990.6" stroke="#62c4a8" stroke-width="2.6"/>
<line x1="778" y1="981" x2="780.6" y2="949.2" stroke="#62c4a8" stroke-width="2.6"/>
<line x1="778" y1="981" x2="799.9" y2="990.6" stroke="#62c4a8" stroke-width="2.6"/>
<line x1="778" y1="981" x2="793.8" y2="967.4" stroke="#62c4a8" stroke-width="2.6"/>
<line x1="802" y1="960.7" x2="780.6" y2="949.2" stroke="#62c4a8" stroke-width="2.6"/>
<line x1="802" y1="960.7" x2="803.7" y2="940.9" stroke="#62c4a8" stroke-width="2.6"/>
<line x1="802" y1="960.7" x2="803.7" y2="981" stroke="#62c4a8" stroke-width="2.6"/>
<line x1="802" y1="960.7" x2="814" y2="980.4" stroke="#62c4a8" stroke-width="2.6"/>
<line x1="793.8" y1="967.4" x2="803.7" y2="940.9" stroke="#62c4a8" stroke-width="2.6"/>
<line x1="793.8" y1="967.4" x2="814" y2="980.4" stroke="#62c4a8" stroke-width="2.6"/>
<line x1="793.8" y1="967.4" x2="811.6" y2="956.5" stroke="#62c4a8" stroke-width="2.6"/>
<line x1="820.7" y1="951.2" x2="803.7" y2="940.9" stroke="#62c4a8" stroke-width="2.6"/>
<line x1="820.7" y1="951.2" x2="823.9" y2="927.1" stroke="#62c4a8" stroke-width="2.6"/>
<line x1="820.7" y1="951.2" x2="818.5" y2="970" stroke="#62c4a8" stroke-width="2.6"/>
<line x1="820.7" y1="951.2" x2="829.5" y2="972.4" stroke="#62c4a8" stroke-width="2.6"/>
<line x1="811.6" y1="956.5" x2="823.9" y2="927.1" stroke="#62c4a8" stroke-width="2.6"/>
<line x1="811.6" y1="956.5" x2="829.5" y2="972.4" stroke="#62c4a8" stroke-width="2.6"/>
<line x1="811.6" y1="956.5" x2="830.9" y2="948.5" stroke="#62c4a8" stroke-width="2.6"/>
<line x1="840.7" y1="944.7" x2="823.9" y2="927.1" stroke="#62c4a8" stroke-width="2.6"/>
<line x1="840.7" y1="944.7" x2="848.5" y2="926.4" stroke="#62c4a8" stroke-width="2.6"/>
<line x1="840.7" y1="944.7" x2="836.1" y2="964.5" stroke="#62c4a8" stroke-width="2.6"/>
<line x1="840.7" y1="944.7" x2="846.1" y2="967.1" stroke="#62c4a8" stroke-width="2.6"/>
<line x1="830.9" y1="948.5" x2="848.5" y2="926.4" stroke="#62c4a8" stroke-width="2.6"/>
<line x1="830.9" y1="948.5" x2="846.1" y2="967.1" stroke="#62c4a8" stroke-width="2.6"/>
<line x1="830.9" y1="948.5" x2="851.2" y2="943.6" stroke="#62c4a8" stroke-width="2.6"/>
<line x1="861.5" y1="941.4" x2="848.5" y2="926.4" stroke="#62c4a8" stroke-width="2.6"/>
<line x1="861.5" y1="941.4" x2="872" y2="919.5" stroke="#62c4a8" stroke-width="2.6"/>
<line x1="861.5" y1="941.4" x2="853.6" y2="958.7" stroke="#62c4a8" stroke-width="2.6"/>
<line x1="861.5" y1="941.4" x2="863.3" y2="964.3" stroke="#62c4a8" stroke-width="2.6"/>
<line x1="851.2" y1="943.6" x2="872" y2="919.5" stroke="#62c4a8" stroke-width="2.6"/>
<line x1="851.2" y1="943.6" x2="863.3" y2="964.3" stroke="#62c4a8" stroke-width="2.6"/>
<line x1="851.2" y1="943.6" x2="872" y2="942" stroke="#62c4a8" stroke-width="2.6"/>
<circle cx="882.5" cy="941.4" r="6.5" fill="url(#mBr)"/>
<circle cx="903.3" cy="944.7" r="6.5" fill="url(#mBr)"/>
<circle cx="923.3" cy="951.2" r="6.5" fill="url(#mBr)"/>
<circle cx="942" cy="960.7" r="6.5" fill="url(#mBr)"/>
<circle cx="959" cy="973.1" r="6.5" fill="url(#mBr)"/>
<circle cx="973.9" cy="988" r="6.5" fill="url(#mBr)"/>
<circle cx="986.3" cy="1005" r="6.5" fill="url(#mBr)"/>
<circle cx="995.8" cy="1023.7" r="6.5" fill="url(#mBr)"/>
<circle cx="1002.3" cy="1043.7" r="6.5" fill="url(#mBr)"/>
<circle cx="1005.6" cy="1064.5" r="6.5" fill="url(#mBr)"/>
<circle cx="1005.6" cy="1085.5" r="6.5" fill="url(#mBr)"/>
<circle cx="1002.3" cy="1106.3" r="6.5" fill="url(#mBr)"/>
<circle cx="995.8" cy="1126.3" r="6.5" fill="url(#mBr)"/>
<circle cx="986.3" cy="1145" r="6.5" fill="url(#mBr)"/>
<circle cx="973.9" cy="1162" r="6.5" fill="url(#mBr)"/>
<circle cx="959" cy="1176.9" r="6.5" fill="url(#mBr)"/>
<circle cx="942" cy="1189.3" r="6.5" fill="url(#mBr)"/>
<circle cx="923.3" cy="1198.8" r="6.5" fill="url(#mBr)"/>
<circle cx="903.3" cy="1205.3" r="6.5" fill="url(#mBr)"/>
<circle cx="882.5" cy="1208.6" r="6.5" fill="url(#mBr)"/>
<circle cx="861.5" cy="1208.6" r="6.5" fill="url(#mBr)"/>
<circle cx="840.7" cy="1205.3" r="6.5" fill="url(#mBr)"/>
<circle cx="820.7" cy="1198.8" r="6.5" fill="url(#mBr)"/>
<circle cx="802" cy="1189.3" r="6.5" fill="url(#mBr)"/>
<circle cx="785" cy="1176.9" r="6.5" fill="url(#mBr)"/>
<circle cx="770.1" cy="1162" r="6.5" fill="url(#mBr)"/>
<circle cx="757.7" cy="1145" r="6.5" fill="url(#mBr)"/>
<circle cx="748.2" cy="1126.3" r="6.5" fill="url(#mBr)"/>
<circle cx="741.7" cy="1106.3" r="6.5" fill="url(#mBr)"/>
<circle cx="738.4" cy="1085.5" r="6.5" fill="url(#mBr)"/>
<circle cx="738.4" cy="1064.5" r="6.5" fill="url(#mBr)"/>
<circle cx="741.7" cy="1043.7" r="6.5" fill="url(#mBr)"/>
<circle cx="748.2" cy="1023.7" r="6.5" fill="url(#mBr)"/>
<circle cx="757.7" cy="1005" r="6.5" fill="url(#mBr)"/>
<circle cx="770.1" cy="988" r="6.5" fill="url(#mBr)"/>
<circle cx="785" cy="973.1" r="6.5" fill="url(#mBr)"/>
<circle cx="802" cy="960.7" r="6.5" fill="url(#mBr)"/>
<circle cx="820.7" cy="951.2" r="6.5" fill="url(#mBr)"/>
<circle cx="840.7" cy="944.7" r="6.5" fill="url(#mBr)"/>
<circle cx="861.5" cy="941.4" r="6.5" fill="url(#mBr)"/>
<circle cx="879.1" cy="918.7" r="5.9" fill="url(#tBr)"/>
<circle cx="880.7" cy="964.3" r="5.9" fill="url(#tBr)"/>
<circle cx="902.5" cy="926.6" r="5.9" fill="url(#tBr)"/>
<circle cx="897.9" cy="967.1" r="5.9" fill="url(#tBr)"/>
<circle cx="927.1" cy="928.5" r="5.9" fill="url(#tBr)"/>
<circle cx="914.5" cy="972.4" r="5.9" fill="url(#tBr)"/>
<circle cx="946.8" cy="943.3" r="5.9" fill="url(#tBr)"/>
<circle cx="930" cy="980.4" r="5.9" fill="url(#tBr)"/>
<circle cx="969.6" cy="952.7" r="5.9" fill="url(#tBr)"/>
<circle cx="944.1" cy="990.6" r="5.9" fill="url(#tBr)"/>
<circle cx="983.9" cy="972.8" r="5.9" fill="url(#tBr)"/>
<circle cx="956.4" cy="1002.9" r="5.9" fill="url(#tBr)"/>
<circle cx="1002.7" cy="988.8" r="5.9" fill="url(#tBr)"/>
<circle cx="966.6" cy="1017" r="5.9" fill="url(#tBr)"/>
<circle cx="1010" cy="1012.4" r="5.9" fill="url(#tBr)"/>
<circle cx="974.6" cy="1032.5" r="5.9" fill="url(#tBr)"/>
<circle cx="1022.9" cy="1033.4" r="5.9" fill="url(#tBr)"/>
<circle cx="979.9" cy="1049.1" r="5.9" fill="url(#tBr)"/>
<circle cx="1022.6" cy="1058.1" r="5.9" fill="url(#tBr)"/>
<circle cx="982.7" cy="1066.3" r="5.9" fill="url(#tBr)"/>
<circle cx="1028.3" cy="1082.1" r="5.9" fill="url(#tBr)"/>
<circle cx="982.7" cy="1083.7" r="5.9" fill="url(#tBr)"/>
<circle cx="1020.4" cy="1105.5" r="5.9" fill="url(#tBr)"/>
<circle cx="979.9" cy="1100.9" r="5.9" fill="url(#tBr)"/>
<circle cx="1018.5" cy="1130.1" r="5.9" fill="url(#tBr)"/>
<circle cx="974.6" cy="1117.5" r="5.9" fill="url(#tBr)"/>
<circle cx="1003.7" cy="1149.8" r="5.9" fill="url(#tBr)"/>
<circle cx="966.6" cy="1133" r="5.9" fill="url(#tBr)"/>
<circle cx="994.3" cy="1172.6" r="5.9" fill="url(#tBr)"/>
<circle cx="956.4" cy="1147.1" r="5.9" fill="url(#tBr)"/>
<circle cx="974.2" cy="1186.9" r="5.9" fill="url(#tBr)"/>
<circle cx="944.1" cy="1159.4" r="5.9" fill="url(#tBr)"/>
<circle cx="958.2" cy="1205.7" r="5.9" fill="url(#tBr)"/>
<circle cx="930" cy="1169.6" r="5.9" fill="url(#tBr)"/>
<circle cx="934.6" cy="1213" r="5.9" fill="url(#tBr)"/>
<circle cx="914.5" cy="1177.6" r="5.9" fill="url(#tBr)"/>
<circle cx="913.6" cy="1225.9" r="5.9" fill="url(#tBr)"/>
<circle cx="897.9" cy="1182.9" r="5.9" fill="url(#tBr)"/>
<circle cx="888.9" cy="1225.6" r="5.9" fill="url(#tBr)"/>
<circle cx="880.7" cy="1185.7" r="5.9" fill="url(#tBr)"/>
<circle cx="864.9" cy="1231.3" r="5.9" fill="url(#tBr)"/>
<circle cx="863.3" cy="1185.7" r="5.9" fill="url(#tBr)"/>
<circle cx="841.5" cy="1223.4" r="5.9" fill="url(#tBr)"/>
<circle cx="846.1" cy="1182.9" r="5.9" fill="url(#tBr)"/>
<circle cx="816.9" cy="1221.5" r="5.9" fill="url(#tBr)"/>
<circle cx="829.5" cy="1177.6" r="5.9" fill="url(#tBr)"/>
<circle cx="797.2" cy="1206.7" r="5.9" fill="url(#tBr)"/>
<circle cx="814" cy="1169.6" r="5.9" fill="url(#tBr)"/>
<circle cx="774.4" cy="1197.3" r="5.9" fill="url(#tBr)"/>
<circle cx="799.9" cy="1159.4" r="5.9" fill="url(#tBr)"/>
<circle cx="760.1" cy="1177.2" r="5.9" fill="url(#tBr)"/>
<circle cx="787.6" cy="1147.1" r="5.9" fill="url(#tBr)"/>
<circle cx="741.3" cy="1161.2" r="5.9" fill="url(#tBr)"/>
<circle cx="777.4" cy="1133" r="5.9" fill="url(#tBr)"/>
<circle cx="734" cy="1137.6" r="5.9" fill="url(#tBr)"/>
<circle cx="769.4" cy="1117.5" r="5.9" fill="url(#tBr)"/>
<circle cx="721.1" cy="1116.6" r="5.9" fill="url(#tBr)"/>
<circle cx="764.1" cy="1100.9" r="5.9" fill="url(#tBr)"/>
<circle cx="721.4" cy="1091.9" r="5.9" fill="url(#tBr)"/>
<circle cx="761.3" cy="1083.7" r="5.9" fill="url(#tBr)"/>
<circle cx="715.7" cy="1067.9" r="5.9" fill="url(#tBr)"/>
<circle cx="761.3" cy="1066.3" r="5.9" fill="url(#tBr)"/>
<circle cx="723.6" cy="1044.5" r="5.9" fill="url(#tBr)"/>
<circle cx="764.1" cy="1049.1" r="5.9" fill="url(#tBr)"/>
<circle cx="725.5" cy="1019.9" r="5.9" fill="url(#tBr)"/>
<circle cx="769.4" cy="1032.5" r="5.9" fill="url(#tBr)"/>
<circle cx="740.3" cy="1000.2" r="5.9" fill="url(#tBr)"/>
<circle cx="777.4" cy="1017" r="5.9" fill="url(#tBr)"/>
<circle cx="749.7" cy="977.4" r="5.9" fill="url(#tBr)"/>
<circle cx="787.6" cy="1002.9" r="5.9" fill="url(#tBr)"/>
<circle cx="769.8" cy="963.1" r="5.9" fill="url(#tBr)"/>
<circle cx="799.9" cy="990.6" r="5.9" fill="url(#tBr)"/>
<circle cx="785.8" cy="944.3" r="5.9" fill="url(#tBr)"/>
<circle cx="814" cy="980.4" r="5.9" fill="url(#tBr)"/>
<circle cx="809.4" cy="937" r="5.9" fill="url(#tBr)"/>
<circle cx="829.5" cy="972.4" r="5.9" fill="url(#tBr)"/>
<circle cx="830.4" cy="924.1" r="5.9" fill="url(#tBr)"/>
<circle cx="846.1" cy="967.1" r="5.9" fill="url(#tBr)"/>
<circle cx="855.1" cy="924.4" r="5.9" fill="url(#tBr)"/>
<circle cx="863.3" cy="964.3" r="5.9" fill="url(#tBr)"/>
<circle cx="872" cy="942" r="7.1" fill="url(#mBs)"/>
<circle cx="892.8" cy="943.6" r="7.1" fill="url(#mBs)"/>
<circle cx="913.1" cy="948.5" r="7.1" fill="url(#mBs)"/>
<circle cx="932.4" cy="956.5" r="7.1" fill="url(#mBs)"/>
<circle cx="950.2" cy="967.4" r="7.1" fill="url(#mBs)"/>
<circle cx="966" cy="981" r="7.1" fill="url(#mBs)"/>
<circle cx="979.6" cy="996.8" r="7.1" fill="url(#mBs)"/>
<circle cx="990.5" cy="1014.6" r="7.1" fill="url(#mBs)"/>
<circle cx="998.5" cy="1033.9" r="7.1" fill="url(#mBs)"/>
<circle cx="1003.4" cy="1054.2" r="7.1" fill="url(#mBs)"/>
<circle cx="1005" cy="1075" r="7.1" fill="url(#mBs)"/>
<circle cx="1003.4" cy="1095.8" r="7.1" fill="url(#mBs)"/>
<circle cx="998.5" cy="1116.1" r="7.1" fill="url(#mBs)"/>
<circle cx="990.5" cy="1135.4" r="7.1" fill="url(#mBs)"/>
<circle cx="979.6" cy="1153.2" r="7.1" fill="url(#mBs)"/>
<circle cx="966" cy="1169" r="7.1" fill="url(#mBs)"/>
<circle cx="950.2" cy="1182.6" r="7.1" fill="url(#mBs)"/>
<circle cx="932.4" cy="1193.5" r="7.1" fill="url(#mBs)"/>
<circle cx="913.1" cy="1201.5" r="7.1" fill="url(#mBs)"/>
<circle cx="892.8" cy="1206.4" r="7.1" fill="url(#mBs)"/>
<circle cx="872" cy="1208" r="7.1" fill="url(#mBs)"/>
<circle cx="851.2" cy="1206.4" r="7.1" fill="url(#mBs)"/>
<circle cx="830.9" cy="1201.5" r="7.1" fill="url(#mBs)"/>
<circle cx="811.6" cy="1193.5" r="7.1" fill="url(#mBs)"/>
<circle cx="793.8" cy="1182.6" r="7.1" fill="url(#mBs)"/>
<circle cx="778" cy="1169" r="7.1" fill="url(#mBs)"/>
<circle cx="764.4" cy="1153.2" r="7.1" fill="url(#mBs)"/>
<circle cx="753.5" cy="1135.4" r="7.1" fill="url(#mBs)"/>
<circle cx="745.5" cy="1116.1" r="7.1" fill="url(#mBs)"/>
<circle cx="740.6" cy="1095.8" r="7.1" fill="url(#mBs)"/>
<circle cx="739" cy="1075" r="7.1" fill="url(#mBs)"/>
<circle cx="740.6" cy="1054.2" r="7.1" fill="url(#mBs)"/>
<circle cx="745.5" cy="1033.9" r="7.1" fill="url(#mBs)"/>
<circle cx="753.5" cy="1014.6" r="7.1" fill="url(#mBs)"/>
<circle cx="764.4" cy="996.8" r="7.1" fill="url(#mBs)"/>
<circle cx="778" cy="981" r="7.1" fill="url(#mBs)"/>
<circle cx="793.8" cy="967.4" r="7.1" fill="url(#mBs)"/>
<circle cx="811.6" cy="956.5" r="7.1" fill="url(#mBs)"/>
<circle cx="830.9" cy="948.5" r="7.1" fill="url(#mBs)"/>
<circle cx="851.2" cy="943.6" r="7.1" fill="url(#mBs)"/>
<circle cx="872" cy="919.5" r="5.9" fill="url(#tBs)"/>
<circle cx="872" cy="958.8" r="5.9" fill="url(#tBs)"/>
<circle cx="895.5" cy="926.4" r="5.9" fill="url(#tBs)"/>
<circle cx="890.4" cy="958.7" r="5.9" fill="url(#tBs)"/>
<circle cx="920.1" cy="927.1" r="5.9" fill="url(#tBs)"/>
<circle cx="907.9" cy="964.5" r="5.9" fill="url(#tBs)"/>
<circle cx="940.3" cy="940.9" r="5.9" fill="url(#tBs)"/>
<circle cx="924" cy="973" r="5.6" fill="url(#yB)"/>
<circle cx="963.4" cy="949.2" r="5.9" fill="url(#tBs)"/>
<circle cx="940.3" cy="981" r="5.9" fill="url(#tBs)"/>
<circle cx="978.4" cy="968.6" r="5.9" fill="url(#tBs)"/>
<circle cx="955.3" cy="991.7" r="5.9" fill="url(#tBs)"/>
<circle cx="997.8" cy="983.6" r="5.9" fill="url(#tBs)"/>
<circle cx="966" cy="1006.7" r="5.9" fill="url(#tBs)"/>
<circle cx="1006.1" cy="1006.7" r="5.9" fill="url(#tBs)"/>
<circle cx="974" cy="1023" r="5.6" fill="url(#yB)"/>
<circle cx="1019.9" cy="1026.9" r="5.9" fill="url(#tBs)"/>
<circle cx="982.5" cy="1039.1" r="5.9" fill="url(#tBs)"/>
<circle cx="1020.6" cy="1051.5" r="5.9" fill="url(#tBs)"/>
<circle cx="988.3" cy="1056.6" r="5.9" fill="url(#tBs)"/>
<circle cx="1027.5" cy="1075" r="5.9" fill="url(#tBs)"/>
<circle cx="988.2" cy="1075" r="5.9" fill="url(#tBs)"/>
<circle cx="1020.6" cy="1098.5" r="5.9" fill="url(#tBs)"/>
<circle cx="985.1" cy="1092.9" r="5.6" fill="url(#yB)"/>
<circle cx="1019.9" cy="1123.1" r="5.9" fill="url(#tBs)"/>
<circle cx="982.5" cy="1110.9" r="5.9" fill="url(#tBs)"/>
<circle cx="1006.1" cy="1143.3" r="5.9" fill="url(#tBs)"/>
<circle cx="977" cy="1128.5" r="5.9" fill="url(#tBs)"/>
<circle cx="997.8" cy="1166.4" r="5.9" fill="url(#tBs)"/>
<circle cx="966" cy="1143.3" r="5.9" fill="url(#tBs)"/>
<circle cx="978.4" cy="1181.4" r="5.9" fill="url(#tBs)"/>
<circle cx="953" cy="1156" r="5.6" fill="url(#yB)"/>
<circle cx="963.4" cy="1200.8" r="5.9" fill="url(#tBs)"/>
<circle cx="940.3" cy="1169" r="5.9" fill="url(#tBs)"/>
<circle cx="940.3" cy="1209.1" r="5.9" fill="url(#tBs)"/>
<circle cx="925.5" cy="1180" r="5.9" fill="url(#tBs)"/>
<circle cx="920.1" cy="1222.9" r="5.9" fill="url(#tBs)"/>
<circle cx="907.9" cy="1185.5" r="5.9" fill="url(#tBs)"/>
<circle cx="895.5" cy="1223.6" r="5.9" fill="url(#tBs)"/>
<circle cx="889.9" cy="1188.1" r="5.6" fill="url(#yB)"/>
<circle cx="872" cy="1230.5" r="5.9" fill="url(#tBs)"/>
<circle cx="872" cy="1191.2" r="5.9" fill="url(#tBs)"/>
<circle cx="848.5" cy="1223.6" r="5.9" fill="url(#tBs)"/>
<circle cx="853.6" cy="1191.3" r="5.9" fill="url(#tBs)"/>
<circle cx="823.9" cy="1222.9" r="5.9" fill="url(#tBs)"/>
<circle cx="836.1" cy="1185.5" r="5.9" fill="url(#tBs)"/>
<circle cx="803.7" cy="1209.1" r="5.9" fill="url(#tBs)"/>
<circle cx="820" cy="1177" r="5.6" fill="url(#yB)"/>
<circle cx="780.6" cy="1200.8" r="5.9" fill="url(#tBs)"/>
<circle cx="803.7" cy="1169" r="5.9" fill="url(#tBs)"/>
<circle cx="765.6" cy="1181.4" r="5.9" fill="url(#tBs)"/>
<circle cx="788.7" cy="1158.3" r="5.9" fill="url(#tBs)"/>
<circle cx="746.2" cy="1166.4" r="5.9" fill="url(#tBs)"/>
<circle cx="778" cy="1143.3" r="5.9" fill="url(#tBs)"/>
<circle cx="737.9" cy="1143.3" r="5.9" fill="url(#tBs)"/>
<circle cx="770" cy="1127" r="5.6" fill="url(#yB)"/>
<circle cx="724.1" cy="1123.1" r="5.9" fill="url(#tBs)"/>
<circle cx="761.5" cy="1110.9" r="5.9" fill="url(#tBs)"/>
<circle cx="723.4" cy="1098.5" r="5.9" fill="url(#tBs)"/>
<circle cx="755.7" cy="1093.4" r="5.9" fill="url(#tBs)"/>
<circle cx="716.5" cy="1075" r="5.9" fill="url(#tBs)"/>
<circle cx="755.8" cy="1075" r="5.9" fill="url(#tBs)"/>
<circle cx="723.4" cy="1051.5" r="5.9" fill="url(#tBs)"/>
<circle cx="758.9" cy="1057.1" r="5.6" fill="url(#yB)"/>
<circle cx="724.1" cy="1026.9" r="5.9" fill="url(#tBs)"/>
<circle cx="761.5" cy="1039.1" r="5.9" fill="url(#tBs)"/>
<circle cx="737.9" cy="1006.7" r="5.9" fill="url(#tBs)"/>
<circle cx="767" cy="1021.5" r="5.9" fill="url(#tBs)"/>
<circle cx="746.2" cy="983.6" r="5.9" fill="url(#tBs)"/>
<circle cx="778" cy="1006.7" r="5.9" fill="url(#tBs)"/>
<circle cx="765.6" cy="968.6" r="5.9" fill="url(#tBs)"/>
<circle cx="791" cy="994" r="5.6" fill="url(#yB)"/>
<circle cx="780.6" cy="949.2" r="5.9" fill="url(#tBs)"/>
<circle cx="803.7" cy="981" r="5.9" fill="url(#tBs)"/>
<circle cx="803.7" cy="940.9" r="5.9" fill="url(#tBs)"/>
<circle cx="818.5" cy="970" r="5.9" fill="url(#tBs)"/>
<circle cx="823.9" cy="927.1" r="5.9" fill="url(#tBs)"/>
<circle cx="836.1" cy="964.5" r="5.9" fill="url(#tBs)"/>
<circle cx="848.5" cy="926.4" r="5.9" fill="url(#tBs)"/>
<circle cx="854.1" cy="961.9" r="5.6" fill="url(#yB)"/>
<line x1="684.5" y1="1288.4" x2="856.5" y2="1288.4" stroke="#7fabc4" stroke-width="3" />
<line x1="899.4" y1="1288.4" x2="1072.2" y2="1288.4" stroke="#7fabc4" stroke-width="3" />
<polygon points="664.5,1288.4 694.5,1279.6 686.5,1288.4 694.5,1297.2" fill="#7fabc4"/>
<polygon points="1092.2,1288.4 1062.2,1297.2 1070.2,1288.4 1062.2,1279.6" fill="#7fabc4"/>
<path d="M103.6,817.6 C108,817.5 121.4,817.2 130,817.2 C138.6,817.2 148.3,817 155,817.6 C161.7,818.2 165.8,819.1 170,821 C174.2,822.9 177.3,826.2 180,829 C182.7,831.8 184.2,834.7 186.4,838 C188.6,841.3 190.8,844.6 193,849 C195.2,853.4 197.8,858.6 199.7,864.6 C201.6,870.6 203.2,877.4 204.5,885 C205.8,892.6 206.8,901.7 207.8,910 C208.8,918.3 209.6,926.7 210.5,935 C211.4,943.3 212.2,949.2 213.2,960 C214.2,970.8 215.4,986.7 216.5,1000 C217.6,1013.3 218.5,1027.5 219.5,1040 C220.5,1052.5 221.3,1060 222.5,1075 C223.7,1090 225.5,1115.8 226.6,1130 C227.7,1144.2 228,1150 229.1,1160 C230.2,1170 231.6,1181.2 233,1190 C234.4,1198.8 236.2,1207.3 237.5,1213 C238.8,1218.7 240.1,1221.7 241,1224 C241.9,1226.3 242.2,1227.2 243,1227 C243.8,1226.8 244.4,1226.3 245.5,1223 C246.6,1219.7 248.1,1213.5 249.5,1207 C250.9,1200.5 252.5,1191.8 254,1184 C255.5,1176.2 257.2,1169 258.6,1160 C260,1151 261,1141.7 262.3,1130 C263.6,1118.3 265.1,1103 266.5,1090 C267.9,1077 269.3,1061.7 270.5,1052 C271.7,1042.3 272.5,1036.4 273.5,1032 C274.5,1027.6 275.5,1026.1 276.4,1025.6 C277.3,1025.1 277.9,1025.4 279,1029 C280.1,1032.6 281.5,1039.3 283,1047 C284.5,1054.7 286.3,1066.2 288,1075 C289.7,1083.8 291.3,1093 293,1100 C294.7,1107 296.5,1113 298,1117 C299.5,1121 300.9,1122.6 302,1124 C303.1,1125.4 303.6,1125.6 304.4,1125.3 C305.2,1125 305.7,1124.9 306.8,1122 C307.9,1119.1 309.4,1114.7 311,1108 C312.6,1101.3 314.7,1090.8 316.5,1082 C318.3,1073.2 320.2,1062.2 322,1055 C323.8,1047.8 325.6,1042.4 327,1039 C328.4,1035.6 329.5,1035.3 330.5,1034.5 C331.5,1033.7 332.1,1033.5 332.9,1033.9 C333.7,1034.3 334.5,1033.5 335.5,1037 C336.5,1040.5 337.8,1046.2 339,1055 C340.2,1063.8 341.7,1077.5 343,1090 C344.3,1102.5 345.9,1118.3 347,1130 C348.1,1141.7 348.6,1148.3 349.8,1160 C351,1171.7 352.5,1186.7 354,1200 C355.5,1213.3 357.4,1229.7 359,1240 C360.6,1250.3 362.2,1257 363.5,1262 C364.8,1267 365.8,1268.5 366.5,1270 C367.2,1271.5 367.4,1271.5 368,1271.2 C368.6,1270.9 368.9,1271.2 369.8,1268 C370.7,1264.8 372.1,1260 373.5,1252 C374.9,1244 376.9,1230.7 378.5,1220 C380.1,1209.3 381.7,1198 383,1188 C384.3,1178 385.4,1169.7 386.3,1160 C387.2,1150.3 387.8,1140.8 388.5,1130 C389.2,1119.2 389.8,1108.3 390.5,1095 C391.2,1081.7 392.2,1063.3 393,1050 C393.8,1036.7 394.8,1023.3 395.5,1015 C396.2,1006.7 396.4,1011.4 397.3,1000 C398.2,988.6 399.7,962 401.1,946.8 C402.5,931.6 404.1,919.4 405.5,908.8 C406.9,898.2 407.6,891.2 409.3,883.4 C411,875.6 412.9,868.1 415.6,861.8 C418.4,855.5 421.8,849.7 425.8,845.4 C429.8,841.1 434.2,838.1 439.7,835.8 C445.2,833.5 451.4,832.4 458.8,831.4 C466.2,830.4 475,830 484.1,829.5 C493.2,829 508.4,828.6 513.3,828.4" fill="none" stroke="#66ad8b" stroke-width="3.2" stroke-linejoin="round" stroke-linecap="round"/>
<path d="M534.8,829.2 C539,829.2 552.9,829.1 560,829.2 C567.1,829.3 573.3,829.1 577.6,829.6 C581.9,830.1 583.6,830.9 586,832 C588.4,833.1 590.3,834.1 592.1,836.3 C593.9,838.5 595.7,841.5 597,845 C598.3,848.5 599.1,851.7 600,857.5 C600.9,863.3 601.6,869.2 602.5,880 C603.4,890.8 604.6,909 605.4,922.3 C606.1,935.6 606.5,948.3 607,960 C607.5,971.7 607.7,972.7 608.2,992.7 C608.8,1012.7 609.6,1055.5 610.3,1080 C611,1104.5 611.7,1120.8 612.5,1140 C613.3,1159.2 614.1,1178.3 615,1195 C615.9,1211.7 617.1,1228.8 618,1240 C618.9,1251.2 619.8,1257 620.5,1262 C621.2,1267 621.8,1269.8 622.5,1270.1 C623.2,1270.4 623.7,1269 624.5,1264 C625.3,1259 626.5,1250.7 627.5,1240 C628.5,1229.3 629.5,1216.7 630.5,1200 C631.5,1183.3 632.3,1160.8 633.2,1140 C634.1,1119.2 635,1093.3 635.8,1075 C636.6,1056.7 637.2,1042.5 637.8,1030 C638.4,1017.5 639,1006.3 639.5,1000 C640,993.7 640.3,992.2 640.8,992 C641.2,991.8 641.6,992.7 642.2,999 C642.8,1005.3 643.7,1018.2 644.5,1030 C645.3,1041.8 646.2,1058.3 647,1070 C647.8,1081.7 648.6,1090.3 649.5,1100 C650.4,1109.7 651.5,1120.7 652.5,1128 C653.5,1135.3 654.5,1140.7 655.3,1144 C656,1147.3 656.4,1147.6 657,1147.8 C657.6,1148 658.2,1147.3 659,1145 C659.8,1142.7 660.7,1137.8 661.5,1134 C662.3,1130.2 663,1124.7 663.6,1122 C664.2,1119.3 664.6,1118 665.1,1117.8 C665.6,1117.6 666,1117.6 666.6,1121 C667.2,1124.4 668,1128.2 669,1138 C670,1147.8 671.2,1164.7 672.5,1180 C673.8,1195.3 675.2,1215.3 676.5,1230 C677.8,1244.7 679,1259.3 680,1268 C681,1276.7 681.7,1281 682.4,1282.3 C683.1,1283.6 683.6,1280.4 684.3,1276 C685,1271.6 685.5,1268.7 686.5,1256 C687.5,1243.3 689.2,1219.3 690.3,1200 C691.4,1180.7 692.2,1160.8 693,1140 C693.8,1119.2 694.4,1099.5 695,1075 C695.6,1050.5 696.1,1018.2 696.9,992.7 C697.7,967.2 698.9,939.4 699.7,922.3 C700.6,905.2 701.2,898.7 702,890 C702.8,881.3 703.6,876.3 704.5,870 C705.4,863.7 706,857.2 707.1,852.2 C708.2,847.2 709.2,843.5 711,840 C712.8,836.5 715,833.3 717.7,831 C720.4,828.7 723.9,827.2 727,826 C730.1,824.8 730.7,824.4 736.2,823.9 C741.7,823.4 736,823.3 760,823.1 C784,822.9 840,822.8 880,822.8 C920,822.8 976.3,822.7 1000,822.8 C1023.7,822.9 1016.7,822.9 1022,823.2 C1027.3,823.5 1029.2,823.7 1031.7,824.5 C1034.2,825.3 1035.2,826.5 1037,828 C1038.8,829.5 1040.6,830.9 1042.3,833.2 C1044,835.5 1045.5,837.9 1047,842 C1048.5,846.1 1050,851.4 1051,857.7 C1052,864 1052.7,871.2 1053.3,880 C1053.9,888.8 1054.2,898.6 1054.8,910.3 C1055.4,922 1056.2,935.4 1056.8,950.4 C1057.4,965.4 1058,980.1 1058.5,1000 C1059,1019.9 1059.3,1048.3 1060,1070 C1060.7,1091.7 1061.5,1108.3 1062.5,1130 C1063.5,1151.7 1064.8,1180 1066,1200 C1067.2,1220 1068.7,1237.5 1069.7,1250 C1070.7,1262.5 1071.3,1269.8 1071.8,1275 C1072.3,1280.2 1072.5,1281.3 1072.9,1281.5 C1073.4,1281.7 1073.8,1281.2 1074.5,1276 C1075.2,1270.8 1075.9,1262.7 1077,1250 C1078.1,1237.3 1079.8,1215 1081,1200 C1082.2,1185 1083.4,1171.7 1084.5,1160 C1085.6,1148.3 1086.7,1136.8 1087.5,1130 C1088.3,1123.2 1088.8,1121.2 1089.3,1119 C1089.8,1116.8 1089.9,1116.8 1090.3,1117 C1090.7,1117.2 1090.9,1117.5 1091.5,1120 C1092.1,1122.5 1093.1,1128.3 1094,1132 C1094.9,1135.7 1096,1139.9 1096.7,1142 C1097.4,1144.1 1097.8,1144.7 1098.4,1144.5 C1099,1144.3 1099.5,1144.8 1100.3,1141 C1101.1,1137.2 1102.5,1129.7 1103.5,1122 C1104.5,1114.3 1105.7,1103.7 1106.5,1095 C1107.3,1086.3 1107.9,1079.2 1108.6,1070 C1109.3,1060.8 1109.9,1050.8 1110.5,1040 C1111.1,1029.2 1111.8,1013.3 1112.3,1005 C1112.8,996.7 1113.2,993.1 1113.6,990 C1114,986.9 1114.2,986.3 1114.5,986.3 C1114.8,986.3 1115,985.2 1115.6,990 C1116.1,994.8 1116.9,1000 1117.8,1015 C1118.7,1030 1119.8,1059.2 1120.8,1080 C1121.8,1100.8 1122.5,1120.8 1123.5,1140 C1124.5,1159.2 1125.5,1178.3 1126.5,1195 C1127.5,1211.7 1128.6,1229 1129.5,1240 C1130.4,1251 1131.1,1256.5 1131.8,1261 C1132.5,1265.5 1132.9,1266.9 1133.4,1266.9 C1133.9,1266.9 1134.2,1266.3 1135,1261 C1135.8,1255.7 1136.9,1248.5 1138,1235 C1139.1,1221.5 1140.5,1199.2 1141.5,1180 C1142.5,1160.8 1143.7,1136.7 1144.2,1120 C1144.8,1103.3 1144.4,1095 1144.8,1080 C1145.2,1065 1145.8,1051.6 1146.5,1030 C1147.2,1008.4 1148.3,970.4 1149,950.4 C1149.7,930.4 1150,921.7 1150.5,910 C1151,898.3 1151.6,887 1152,880 C1152.4,873 1152.2,872.2 1152.7,868 C1153.2,863.8 1154.1,858.5 1155,855 C1155.9,851.5 1156.7,850 1157.9,847.2 C1159.1,844.4 1160.2,840.5 1162,838 C1163.8,835.5 1165,833.9 1168.4,832.5 C1171.8,831.1 1177.2,830.3 1182.5,829.7 C1187.8,829.1 1193.6,829.1 1200,829 C1206.4,828.9 1217.5,829 1221,829" fill="none" stroke="#66ad8b" stroke-width="3.2" stroke-linejoin="round" stroke-linecap="round"/>
<line x1="120" y1="818.4" x2="346" y2="818.4" stroke="#7fabc4" stroke-width="2.9" stroke-dasharray="8.3 7.3" stroke-dashoffset="0"/>
<line x1="278.8" y1="828.3" x2="513" y2="828.3" stroke="#7fabc4" stroke-width="2.9" stroke-dasharray="8.3 7.3" stroke-dashoffset="0"/>
<line x1="535" y1="829.7" x2="674" y2="829.7" stroke="#7fabc4" stroke-width="2.9" stroke-dasharray="8.3 7.3" stroke-dashoffset="0"/>
<line x1="627.8" y1="822" x2="870" y2="822" stroke="#7fabc4" stroke-width="2.9" stroke-dasharray="8.3 7.3" stroke-dashoffset="0"/>
<line x1="1040.5" y1="778.9" x2="1082" y2="778.9" stroke="#7fabc4" stroke-width="2.9" stroke-dasharray="8.3 7.3" stroke-dashoffset="0"/>
<line x1="1120" y1="778.9" x2="1173" y2="778.9" stroke="#7fabc4" stroke-width="2.9" stroke-dasharray="8.3 7.3" stroke-dashoffset="0"/>
<line x1="711.6" y1="911.8" x2="940.3" y2="911.8" stroke="#7fabc4" stroke-width="2.9" stroke-dasharray="8.3 7.3" stroke-dashoffset="0"/>
<line x1="711.6" y1="972.5" x2="940.3" y2="972.5" stroke="#7fabc4" stroke-width="2.9" stroke-dasharray="8.3 7.3" stroke-dashoffset="0"/>
<line x1="733.4" y1="1075.4" x2="858" y2="1075.4" stroke="#7fabc4" stroke-width="2.9" stroke-dasharray="8.3 7.3" stroke-dashoffset="0"/>
<line x1="887.5" y1="1075.4" x2="1000" y2="1075.4" stroke="#7fabc4" stroke-width="2.9" stroke-dasharray="8.3 7.3" stroke-dashoffset="0"/>
<line x1="657.3" y1="1152" x2="657.3" y2="1318" stroke="#7fabc4" stroke-width="2.9" stroke-dasharray="8 7.5" stroke-dashoffset="0"/>
<line x1="1098.5" y1="1148.6" x2="1098.5" y2="1318" stroke="#7fabc4" stroke-width="2.9" stroke-dasharray="8 7.5" stroke-dashoffset="0"/>
<line x1="244.7" y1="853.4" x2="274.9" y2="897.3" stroke="#3aa88c" stroke-width="7.5"/>
<line x1="244.7" y1="853.4" x2="274.9" y2="897.3" stroke="#78eccf" stroke-width="3.375"/>
<line x1="274.9" y1="897.3" x2="305" y2="941.2" stroke="#5d8ca0" stroke-width="7.5"/>
<line x1="274.9" y1="897.3" x2="305" y2="941.2" stroke="#8cc0d4" stroke-width="3.375"/>
<line x1="354.1" y1="893.4" x2="329.6" y2="917.3" stroke="#3aa88c" stroke-width="7.5"/>
<line x1="354.1" y1="893.4" x2="329.6" y2="917.3" stroke="#78eccf" stroke-width="3.375"/>
<line x1="329.6" y1="917.3" x2="305" y2="941.2" stroke="#5d8ca0" stroke-width="7.5"/>
<line x1="329.6" y1="917.3" x2="305" y2="941.2" stroke="#8cc0d4" stroke-width="3.375"/>
<line x1="374.1" y1="893.4" x2="339.6" y2="917.3" stroke="#3aa88c" stroke-width="7.5"/>
<line x1="374.1" y1="893.4" x2="339.6" y2="917.3" stroke="#78eccf" stroke-width="3.375"/>
<line x1="339.6" y1="917.3" x2="305" y2="941.2" stroke="#5d8ca0" stroke-width="7.5"/>
<line x1="339.6" y1="917.3" x2="305" y2="941.2" stroke="#8cc0d4" stroke-width="3.375"/>
<line x1="238.6" y1="973" x2="271.8" y2="957.1" stroke="#c8c030" stroke-width="7.5"/>
<line x1="238.6" y1="973" x2="271.8" y2="957.1" stroke="#efe878" stroke-width="3.375"/>
<line x1="271.8" y1="957.1" x2="305" y2="941.2" stroke="#5d8ca0" stroke-width="7.5"/>
<line x1="271.8" y1="957.1" x2="305" y2="941.2" stroke="#8cc0d4" stroke-width="3.375"/>
<line x1="373.7" y1="1015.3" x2="339.4" y2="978.2" stroke="#3aa88c" stroke-width="7.5"/>
<line x1="373.7" y1="1015.3" x2="339.4" y2="978.2" stroke="#78eccf" stroke-width="3.375"/>
<line x1="339.4" y1="978.2" x2="305" y2="941.2" stroke="#5d8ca0" stroke-width="7.5"/>
<line x1="339.4" y1="978.2" x2="305" y2="941.2" stroke="#8cc0d4" stroke-width="3.375"/>
<line x1="238.6" y1="973" x2="271.6" y2="1007.2" stroke="#c8c030" stroke-width="7.5"/>
<line x1="238.6" y1="973" x2="271.6" y2="1007.2" stroke="#efe878" stroke-width="3.375"/>
<line x1="271.6" y1="1007.2" x2="304.6" y2="1041.5" stroke="#5d8ca0" stroke-width="7.5"/>
<line x1="271.6" y1="1007.2" x2="304.6" y2="1041.5" stroke="#8cc0d4" stroke-width="3.375"/>
<line x1="373.7" y1="1015.3" x2="339.1" y2="1028.4" stroke="#3aa88c" stroke-width="7.5"/>
<line x1="373.7" y1="1015.3" x2="339.1" y2="1028.4" stroke="#78eccf" stroke-width="3.375"/>
<line x1="339.1" y1="1028.4" x2="304.6" y2="1041.5" stroke="#5d8ca0" stroke-width="7.5"/>
<line x1="339.1" y1="1028.4" x2="304.6" y2="1041.5" stroke="#8cc0d4" stroke-width="3.375"/>
<line x1="244.6" y1="1096" x2="274.6" y2="1068.8" stroke="#3aa88c" stroke-width="7.5"/>
<line x1="244.6" y1="1096" x2="274.6" y2="1068.8" stroke="#78eccf" stroke-width="3.375"/>
<line x1="274.6" y1="1068.8" x2="304.6" y2="1041.5" stroke="#5d8ca0" stroke-width="7.5"/>
<line x1="274.6" y1="1068.8" x2="304.6" y2="1041.5" stroke="#8cc0d4" stroke-width="3.375"/>
<line x1="358.5" y1="1136.8" x2="331.6" y2="1089.2" stroke="#3aa88c" stroke-width="7.5"/>
<line x1="358.5" y1="1136.8" x2="331.6" y2="1089.2" stroke="#78eccf" stroke-width="3.375"/>
<line x1="331.6" y1="1089.2" x2="304.6" y2="1041.5" stroke="#5d8ca0" stroke-width="7.5"/>
<line x1="331.6" y1="1089.2" x2="304.6" y2="1041.5" stroke="#8cc0d4" stroke-width="3.375"/>
<circle cx="354.1" cy="893.4" r="17.4" fill="url(#tB)"/>
<circle cx="374.1" cy="893.4" r="17.4" fill="url(#tB)"/>
<circle cx="244.7" cy="853.4" r="17.4" fill="url(#tB)"/>
<circle cx="305" cy="941.2" r="21.2" fill="url(#mB)"/>
<circle cx="249.8" cy="976.6" r="16.5" fill="url(#tB)"/>
<circle cx="238.6" cy="973" r="15" fill="url(#yB)"/>
<circle cx="373.7" cy="1015.3" r="17.4" fill="url(#tB)"/>
<circle cx="304.6" cy="1041.5" r="21" fill="url(#mB)"/>
<circle cx="244.6" cy="1096" r="17" fill="url(#tB)"/>
<circle cx="358.5" cy="1136.8" r="17" fill="url(#tB)"/>
<line x1="238.3" y1="973" x2="238.3" y2="1216" stroke="#66ad8b" stroke-width="2.7" stroke-dasharray="6 3.6" stroke-dashoffset="0"/>
<line x1="245.2" y1="1096" x2="245.2" y2="1222" stroke="#66ad8b" stroke-width="2.7" stroke-dasharray="6 3.6" stroke-dashoffset="0"/>
<line x1="304.6" y1="1041.5" x2="304.6" y2="1119" stroke="#66ad8b" stroke-width="2.7" stroke-dasharray="6 3.6" stroke-dashoffset="0"/>
<line x1="359.4" y1="1136.8" x2="359.4" y2="1252" stroke="#66ad8b" stroke-width="2.7" stroke-dasharray="6 3.6" stroke-dashoffset="0"/>
<line x1="372.9" y1="1015.3" x2="372.9" y2="1263" stroke="#66ad8b" stroke-width="2.7" stroke-dasharray="6 3.6" stroke-dashoffset="0"/>
<line x1="306.7" y1="732.3" x2="306.7" y2="791.4" stroke="#7fabc4" stroke-width="3" />
<polygon points="306.7,811.4 297.7,780.4 306.7,788.4 315.7,780.4" fill="#7fabc4"/>
<line x1="306.7" y1="856.3" x2="306.7" y2="914.4" stroke="#7fabc4" stroke-width="3" />
<polygon points="306.7,836.3 315.7,867.3 306.7,859.3 297.7,867.3" fill="#7fabc4"/>
<line x1="651.6" y1="734.5" x2="651.6" y2="793.8" stroke="#7fabc4" stroke-width="3" />
<polygon points="651.6,813.8 642.6,782.8 651.6,790.8 660.6,782.8" fill="#7fabc4"/>
<line x1="651.6" y1="860.3" x2="651.6" y2="918" stroke="#7fabc4" stroke-width="3" />
<polygon points="651.6,840.3 660.6,871.3 651.6,863.3 642.6,871.3" fill="#7fabc4"/>
<line x1="238.6" y1="1287.7" x2="337.8" y2="1287.7" stroke="#66ad8b" stroke-width="6" />
<polygon points="336.8,1274.7 373.3,1287.7 336.8,1300.7" fill="#66ad8b"/>
<text x="1.6" y="27.1" font-size="46" fill="#111" text-anchor="start" textLength="21.3" lengthAdjust="spacingAndGlyphs" font-weight="bold">a</text>
<text x="0.3" y="734.8" font-size="46" fill="#111" text-anchor="start" font-weight="bold">b</text>
<text x="366.1" y="100.7" font-size="24" fill="#4d9674" textLength="113.7" lengthAdjust="spacingAndGlyphs"><tspan font-style="italic">Δ</tspan><tspan font-weight="bold">~</tspan>0.06 eV</text>
<text x="706.8" y="100.3" font-size="24" fill="#4d9674" textLength="113.6" lengthAdjust="spacingAndGlyphs"><tspan font-style="italic">Δ</tspan><tspan font-weight="bold">~</tspan>0.55 eV</text>
<text x="354.2" y="787.4" font-size="24" fill="#4d9674" textLength="114" lengthAdjust="spacingAndGlyphs"><tspan font-style="italic">Δ</tspan><tspan font-weight="bold">~</tspan>0.35 eV</text>
<text x="714.5" y="786" font-size="24" fill="#4d9674" textLength="122" lengthAdjust="spacingAndGlyphs"><tspan font-style="italic">Δ</tspan><tspan font-weight="bold">~</tspan>-0.38 eV</text>
<text x="282.3" y="704.6" font-size="28"><tspan font-style="italic">z</tspan> (Å)</text>
<text x="282.3" y="1408.2" font-size="28"><tspan font-style="italic">z</tspan> (Å)</text>
<text x="781.9" y="703.9" font-size="28" textLength="187.3" lengthAdjust="spacingAndGlyphs"><tspan font-style="italic">a</tspan> direction (Å)</text>
<text x="782.3" y="1407.8" font-size="28" textLength="187" lengthAdjust="spacingAndGlyphs"><tspan font-style="italic">a</tspan> direction (Å)</text>
<text x="0" y="0" font-size="29" text-anchor="middle" textLength="181" lengthAdjust="spacingAndGlyphs" transform="translate(30.7,274.2) rotate(-90)">Potential (eV)</text>
<text x="0" y="0" font-size="29" text-anchor="middle" textLength="181" lengthAdjust="spacingAndGlyphs" transform="translate(30.7,978.6) rotate(-90)">Potential (eV)</text>
<text x="0" y="0" font-size="29" text-anchor="middle" textLength="181" lengthAdjust="spacingAndGlyphs" transform="translate(1315,275) rotate(-90)">Potential (eV)</text>
<text x="0" y="0" font-size="29" text-anchor="middle" textLength="181" lengthAdjust="spacingAndGlyphs" transform="translate(1315,980) rotate(-90)">Potential (eV)</text>
<text x="1085.5" y="81" font-size="25" font-style="italic">d<tspan font-size="17" dy="7.3">0</tspan></text>
<text x="724.5" y="263" font-size="25" font-style="italic">d<tspan font-size="17" dy="7.3">0</tspan></text>
<text x="1089.5" y="786" font-size="25" font-style="italic">d<tspan font-size="17" dy="7.3">0</tspan></text>
<text x="727" y="948.8" font-size="25" font-style="italic">d<tspan font-size="17" dy="7.3">0</tspan></text>
<g fill="none" stroke="#111" stroke-width="1.8"><ellipse cx="0" cy="0" rx="9.2" ry="7.4" transform="translate(878.6,584.9) rotate(-28)"/><line x1="880.6" y1="575.1" x2="876.5" y2="594.9"/></g>
<g fill="none" stroke="#111" stroke-width="1.8"><ellipse cx="0" cy="0" rx="9.2" ry="7.4" transform="translate(874.5,376) rotate(-28)"/><line x1="876.5" y1="366.2" x2="872.4" y2="386"/></g>
<g fill="none" stroke="#111" stroke-width="1.8"><ellipse cx="0" cy="0" rx="9.2" ry="7.4" transform="translate(877.6,1290) rotate(-28)"/><line x1="879.6" y1="1280.2" x2="875.5" y2="1300"/></g>
<g fill="none" stroke="#111" stroke-width="1.8"><ellipse cx="0" cy="0" rx="9.2" ry="7.4" transform="translate(873.4,1075.3) rotate(-28)"/><line x1="875.4" y1="1065.5" x2="871.3" y2="1085.3"/></g>
<text x="400.3" y="585.6" font-size="26" fill="#66ad8b" font-style="italic">P</text>
<path d="M416.9,581.1 V592.2 M411.4,592.2 H422.4" stroke="#66ad8b" stroke-width="1.4" fill="none"/>
<text x="383.8" y="1297.2" font-size="26" fill="#66ad8b" font-style="italic">P</text>
<path d="M400.4,1292.7 V1303.8 M394.9,1303.8 H405.9" stroke="#66ad8b" stroke-width="1.4" fill="none"/>
</svg>
</body></html>
